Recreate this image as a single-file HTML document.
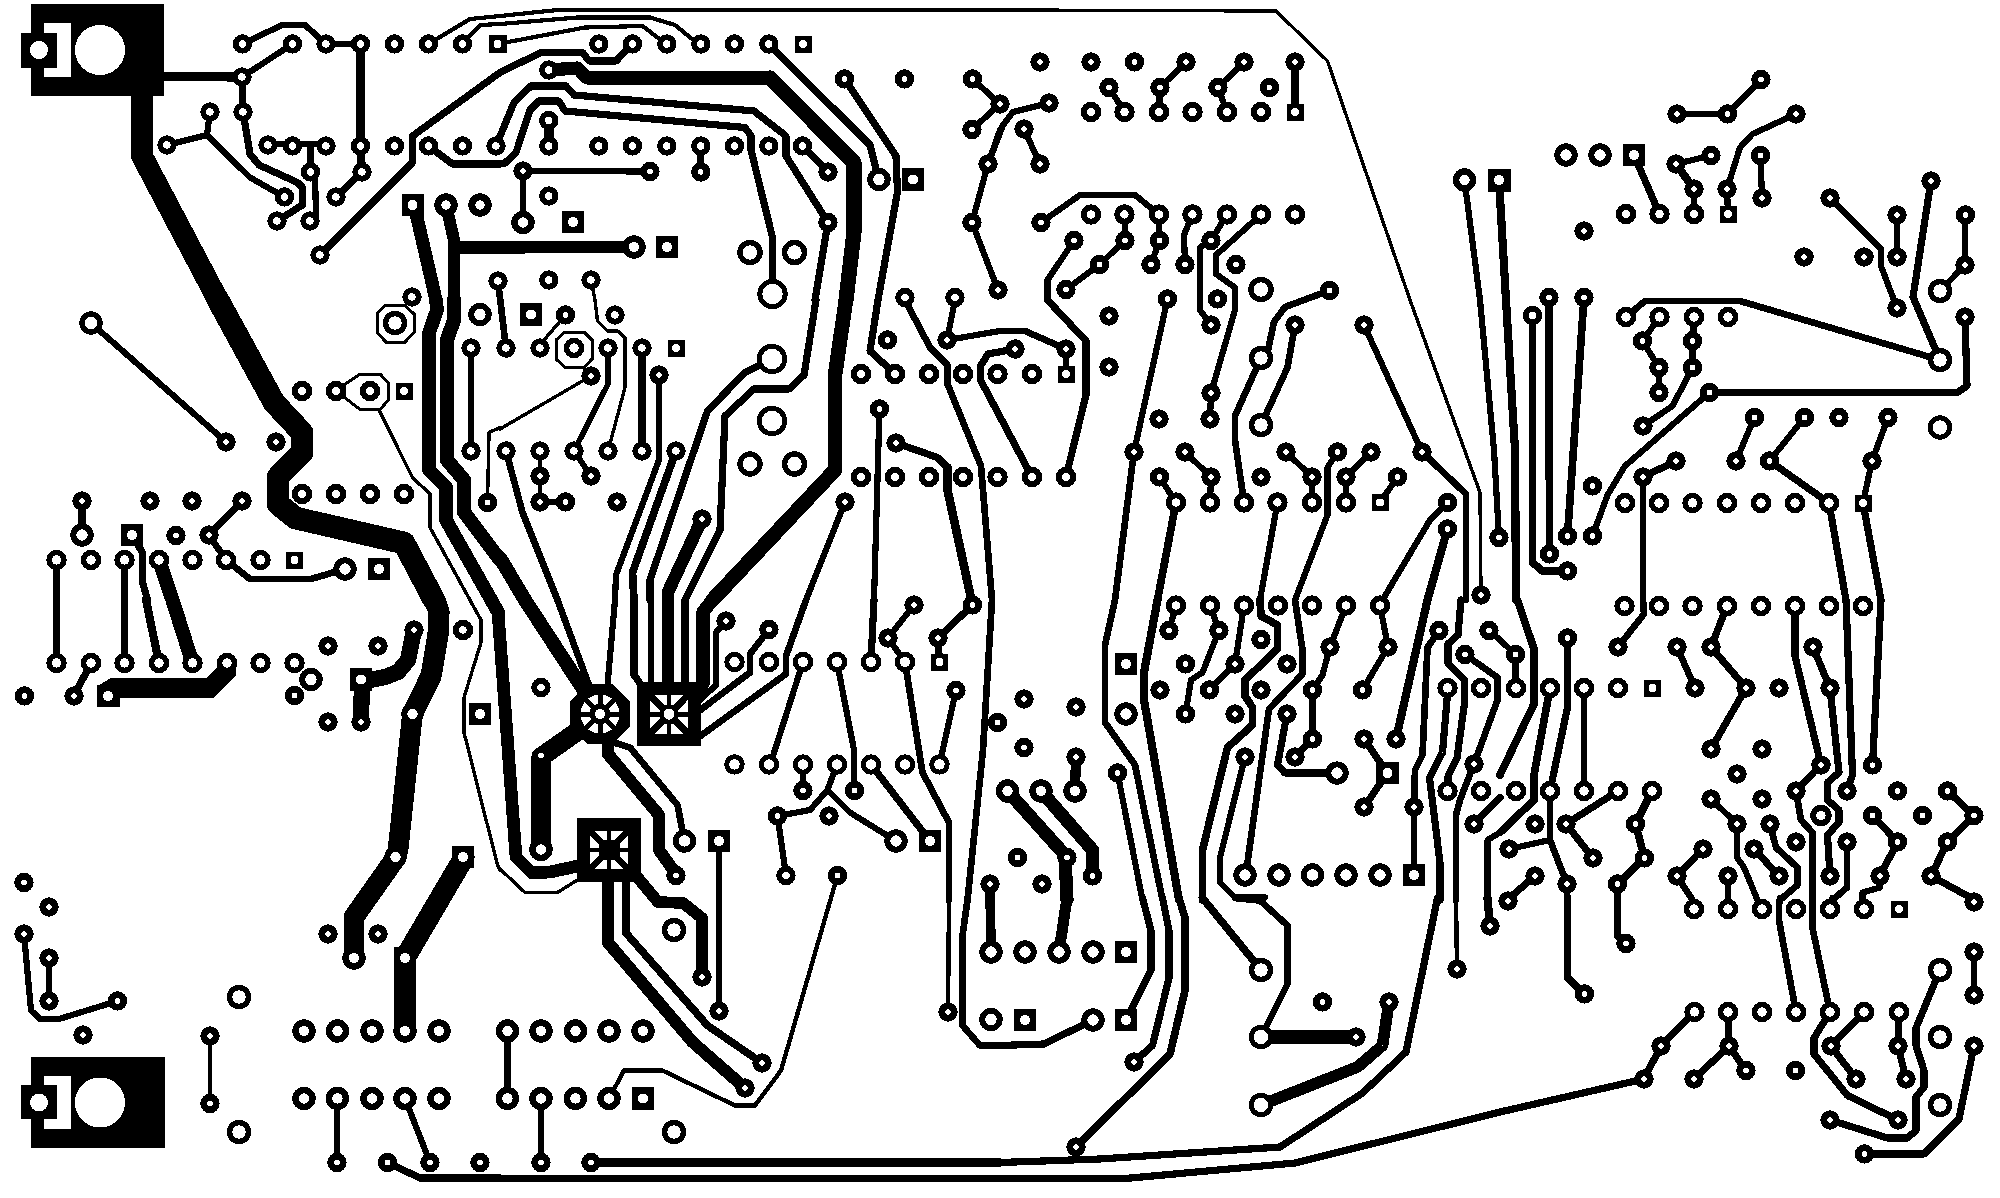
<!DOCTYPE html><html><head><meta charset="utf-8"><title>PCB</title><style>html,body{margin:0;padding:0;background:#fff}svg{display:block}</style></head><body>
<svg width="2000" height="1198" viewBox="0 0 2000 1198" shape-rendering="crispEdges">
<rect width="2000" height="1198" fill="#fff"/>
<g fill="none" stroke="#000" stroke-linejoin="round" stroke-linecap="round">
<polyline stroke-width="21.7" points="142,90 142,156 218,300"/>
<polyline stroke-width="9.2" points="160,76.5 242,77"/>
<polyline stroke-width="6.2" points="242.5,44 282,25 305,25 326,44 360.5,44"/>
<polyline stroke-width="6.2" points="292.5,44 242,77"/>
<polyline stroke-width="7.2" points="242,77 243,112"/>
<polyline stroke-width="8.2" points="360.5,44 360.5,146 362,172"/>
<polyline stroke-width="7.2" points="362,172 336,197"/>
<polyline stroke-width="7.2" points="243,112 250,154 259,165 297.5,182.5 302.5,187.5 302.5,205 277,221"/>
<polyline stroke-width="6.2" points="210,112 207,135"/>
<polyline stroke-width="6.2" points="167,145 207,135 250,177.5 284.5,197"/>
<polyline stroke-width="6.2" points="268,144 326,144"/>
<polyline stroke-width="6.2" points="310.5,146 310.5,172"/>
<polyline stroke-width="6.2" points="315,172 316,217 310,221"/>
<polyline stroke-width="7.2" points="320,255 412.5,162.5 412.5,136 500,72.5"/>
<polyline stroke-width="4.2" points="428.5,44 470,19 500,16"/>
<polyline stroke-width="4.2" points="462.5,44 480,25 500,24"/>
<polyline stroke-width="7.2" points="428.5,146 452.5,164 500,164"/>
<polyline stroke-width="13.2" points="416,213 436,300"/>
<polyline stroke-width="12.2" points="446,205 454,240 454,300"/>
<polyline stroke-width="12.2" points="454,247.5 500,247.5"/>
<polyline stroke-width="4.2" points="500,16 557.5,10 1000,10"/>
<polyline stroke-width="4.2" points="500,24 577.5,17.5 650,17.5 675,25 692,39 700.75,44"/>
<polyline stroke-width="4.2" points="497.5,44 585,27.5 642.5,26 657.5,37.5 666.75,44"/>
<polyline stroke-width="7.2" points="500,72.5 541,52.5 582.5,52.5 589,61 616,61 632.5,44"/>
<polyline stroke-width="13.2" points="548.75,70 577.5,68 587,78 770,78"/>
<polyline stroke-width="15.2" points="770,78 854,162.5 854,232 846,300"/>
<polyline stroke-width="7.2" points="496,146 514,102.5 531,86 566,86 574,95 754,111 786,136 786,156 828,222.5 815,300"/>
<polyline stroke-width="7.2" points="500,164 505,163 516,152.5 530,110 539,101 559,101 565,111 745,127.5 751,136 751,150 772.5,237.5 772.5,282"/>
<polyline stroke-width="7.2" points="768.75,44 870,145 875,165 879,179.5"/>
<polyline stroke-width="7.2" points="844.5,79 896,156 897.5,192 878,300"/>
<polyline stroke-width="10.2" points="548.75,120.5 548.75,146"/>
<polyline stroke-width="6.2" points="523,171 650,171.5"/>
<polyline stroke-width="6.2" points="523,171 523,222.5"/>
<polyline stroke-width="7.2" points="700.75,146 700.75,172"/>
<polyline stroke-width="7.2" points="802.5,146 828,172"/>
<polyline stroke-width="12.2" points="500,247.5 634,247"/>
<polyline stroke-width="3.4" points="591,280 595,300"/>
<polyline stroke-width="6.2" points="972.5,79 1000,104 972,129.5"/>
<polyline stroke-width="6.2" points="1000,130 988,164 972,222.5 998,290"/>
<polyline stroke-width="3.4" points="1000,10 1276,11 1327.5,61 1410,300"/>
<polyline stroke-width="6.2" points="1186,62 1160,87.5 1159,112"/>
<polyline stroke-width="6.2" points="1244,62 1218,87.5 1227,112"/>
<polyline stroke-width="7.2" points="1295,62 1295,112"/>
<polyline stroke-width="6.2" points="1109,87.5 1124.5,112"/>
<polyline stroke-width="6.2" points="1049,103 1013,112 1003,125 988,164"/>
<polyline stroke-width="6.2" points="1024,129 1040,164"/>
<polyline stroke-width="6.2" points="1041,222.5 1080,195 1135,195 1159,214.5"/>
<polyline stroke-width="6.2" points="1124.5,214.5 1125,240.5 1099.5,264.5 1066,289.5"/>
<polyline stroke-width="6.2" points="1159,214.5 1159.5,240.5 1151,264.5"/>
<polyline stroke-width="6.2" points="1192.5,214.5 1184,235 1185,264.5"/>
<polyline stroke-width="6.2" points="1227,214.5 1211,240.5 1200,247.5 1200,300"/>
<polyline stroke-width="6.2" points="1261,214.5 1216,255 1216,274 1235,287.5 1235,300"/>
<polyline stroke-width="6.2" points="1074,240.5 1047.5,280 1047.5,300"/>
<polyline stroke-width="6.2" points="1464.5,180 1480,300"/>
<polyline stroke-width="6.2" points="1677,114 1727.5,114 1761,79.5"/>
<polyline stroke-width="6.2" points="1796,114 1752.5,134 1740,147.5 1727,189 1728,214"/>
<polyline stroke-width="7.2" points="1634,155 1659.5,214"/>
<polyline stroke-width="6.2" points="1676,164 1711,155.5"/>
<polyline stroke-width="8.2" points="1676,164 1694,189"/>
<polyline stroke-width="6.2" points="1694,189 1694,214"/>
<polyline stroke-width="6.2" points="1760.5,155.5 1762,198"/>
<polyline stroke-width="6.2" points="1830,198 1881,249 1881,266 1897,308"/>
<polyline stroke-width="6.2" points="1897,215 1897,257"/>
<polyline stroke-width="7.2" points="1931,181 1913,297 1940,360"/>
<polyline stroke-width="6.2" points="1965.5,215 1965,265 1940,291"/>
<polyline stroke-width="6.2" points="91,323 226,442"/>
<polyline stroke-width="22.7" points="218,300 274,402.5 302,432.5 302,452.5 278,477 278,504 295.5,518 404,543 434,600"/>
<polyline stroke-width="13.7" points="436,300 437,310 429,333 429,470 446,487 446,520 498,612"/>
<polyline stroke-width="14.2" points="454,300 454,320 447,340 447,460 464,480 464,512 500,560"/>
<polyline stroke-width="3.4" points="379,410 412.5,477.5 430,494 430,527.5 481,620 481,642.5 464,697.5 464,732.5 497.5,865 500,870"/>
<polyline stroke-width="6.2" points="471,348 471,451"/>
<polyline stroke-width="3.4" points="500,427.5 489,432.5 487.5,502.5"/>
<polyline stroke-width="7.2" points="82,501 82,535"/>
<polyline stroke-width="7.2" points="242,501 209,535"/>
<polyline stroke-width="6.7" points="209,535 226,560 250,579 311,579 345,569"/>
<polyline stroke-width="7.2" points="132,535 142.5,552.5 142.5,582 147.5,600"/>
<polyline stroke-width="14.2" points="159,560 172.5,600"/>
<polyline stroke-width="7.2" points="56.5,560 56.5,600"/>
<polyline stroke-width="7.2" points="124.5,560 124.5,600"/>
<polyline stroke-width="6.7" points="498,281 506,348"/>
<polyline stroke-width="3.4" points="565.5,315 544,340"/>
<polyline stroke-width="3.4" points="595,300 597.5,321 607.5,331 617.5,331 625,337.5 625,387.5 608,451"/>
<polyline stroke-width="3.4" points="584,367.5 591,376 500,429"/>
<polyline stroke-width="5.7" points="608,348 608,384 574,451 591,476"/>
<polyline stroke-width="8.2" points="642,348 642,451"/>
<polyline stroke-width="6.2" points="659,375 659,460 616,575 615,600"/>
<polyline stroke-width="7.7" points="676,451 632.5,572.5 634,600"/>
<polyline stroke-width="7.2" points="772,359 745,372.5 707.5,411 650,580 650,600"/>
<polyline stroke-width="12.7" points="702,519 668,592 668,684"/>
<polyline stroke-width="7.2" points="816,300 804,375 789,389 754,389 725,416 720,530 685,600"/>
<polyline stroke-width="14.7" points="846,300 835,375 835,470 712.5,600"/>
<polyline stroke-width="6.7" points="506,451 522.5,512.5 557.5,600"/>
<polyline stroke-width="4.4" points="540,451 540,502"/>
<polyline stroke-width="6.2" points="540,502 565.5,502"/>
<polyline stroke-width="14.2" points="500,558 525,600"/>
<polyline stroke-width="7.2" points="878,300 870,351 895,374"/>
<polyline stroke-width="6.7" points="905,300 930,347.5 947.5,365 947.5,384 981,466 992,600"/>
<polyline stroke-width="6.2" points="955,300 947,340 1000,331"/>
<polyline stroke-width="6.2" points="879.5,409 874,600"/>
<polyline stroke-width="7.2" points="896,443 937.5,457.5 947.5,467.5"/>
<polyline stroke-width="8.7" points="947.5,467.5 947.5,490 972.5,605"/>
<polyline stroke-width="6.2" points="845,502 806,600"/>
<polyline stroke-width="7.2" points="1047.5,300 1086,341 1086,395 1066,477"/>
<polyline stroke-width="6.7" points="1000,331 1025,331 1066,349"/>
<polyline stroke-width="7.2" points="1015,349 988,354 980.5,366 980.5,380 1032,477"/>
<polyline stroke-width="6.2" points="1066,349 1066,374"/>
<polyline stroke-width="6.2" points="1167.5,299 1134,452"/>
<polyline stroke-width="6.7" points="1134,452 1115,600"/>
<polyline stroke-width="6.2" points="1200,300 1200,310 1211,325"/>
<polyline stroke-width="6.2" points="1235,300 1235,310 1211,393 1210,419"/>
<polyline stroke-width="6.7" points="1329.5,290.5 1285,307 1274,322 1268,350 1261,358 1235,416 1235,440 1244,502.5"/>
<polyline stroke-width="6.7" points="1295,325 1287.5,367.5 1261,425"/>
<polyline stroke-width="6.2" points="1364,325 1422,452"/>
<polyline stroke-width="6.7" points="1422,452 1466,494 1466,600"/>
<polyline stroke-width="3.4" points="1410,300 1480,492.5 1481,595"/>
<polyline stroke-width="6.2" points="1480,300 1494,450 1499,537.5"/>
<polyline stroke-width="6.2" points="1185,452 1211,477 1210,502.5"/>
<polyline stroke-width="6.2" points="1159.5,477 1176,502.5"/>
<polyline stroke-width="7.7" points="1176,502.5 1157.5,600"/>
<polyline stroke-width="6.2" points="1286,452 1312,477 1312,502.5"/>
<polyline stroke-width="6.2" points="1337.5,452 1327.5,467.5 1327.5,515 1295,600"/>
<polyline stroke-width="6.2" points="1371,452 1346,477 1346,502.5"/>
<polyline stroke-width="6.2" points="1397.5,477 1380,502.5"/>
<polyline stroke-width="6.2" points="1277.5,502.5 1260,600"/>
<polyline stroke-width="6.2" points="1447.5,502.5 1430,520 1382.5,600"/>
<polyline stroke-width="8.2" points="1447.5,529 1427.5,600"/>
<polyline stroke-width="8.2" points="1499,180 1506,300 1515,450 1516,600"/>
<polyline stroke-width="7.7" points="1532.5,315.5 1532.5,562.5 1542.5,571 1567.5,571"/>
<polyline stroke-width="7.7" points="1549,297.5 1549.5,554"/>
<polyline stroke-width="7.7" points="1584,297.5 1567.5,536"/>
<polyline stroke-width="6.7" points="1626,317 1645,301 1740,301 1940,360"/>
<polyline stroke-width="6.2" points="1659.5,317 1642.5,341 1659,367.5 1659,392.5"/>
<polyline stroke-width="7.2" points="1694,317 1692.5,341 1692.5,367.5"/>
<polyline stroke-width="6.2" points="1692.5,367.5 1672.5,406 1643,426"/>
<polyline stroke-width="7.2" points="1709.5,392.5 1957.5,392.5 1967,386 1965,317"/>
<polyline stroke-width="6.2" points="1709.5,392.5 1625,466 1607.5,495 1592.5,536"/>
<polyline stroke-width="6.2" points="1754.5,417.5 1736,461"/>
<polyline stroke-width="6.2" points="1804.5,417.5 1769.5,461"/>
<polyline stroke-width="7.2" points="1769.5,461 1829,503 1846,600"/>
<polyline stroke-width="6.2" points="1888,417.5 1872,461 1863,503"/>
<polyline stroke-width="7.2" points="1863,503 1881,600"/>
<polyline stroke-width="7.2" points="1676,461 1643,477"/>
<polyline stroke-width="6.7" points="1643,477 1643,600"/>
<polyline stroke-width="7.2" points="56.5,600 56.5,663"/>
<polyline stroke-width="7.2" points="124.5,600 124.5,663"/>
<polyline stroke-width="8.2" points="146,600 159,663"/>
<polyline stroke-width="14.2" points="172.5,600 192.5,663"/>
<polyline stroke-width="7.2" points="91,663 74,696"/>
<polyline stroke-width="16.2" points="414,630 408,660 398,672 385,677 361,682"/>
<polyline stroke-width="16.2" points="362,680 361,722"/>
<polyline stroke-width="21.2" points="435,600 439,612 438,635 431,676 412.5,714"/>
<polyline stroke-width="20.7" points="412.5,714 398,850 396,857.5 354,917 354,958"/>
<polyline stroke-width="21.2" points="464,857.5 405,958 405,1031"/>
<polyline stroke-width="12.7" points="498,612 516,857 532,873 550,872 578,866"/>
<polyline stroke-width="3.4" points="500,869 525,892.5 557.5,892.5 577.5,880"/>
<polyline stroke-width="14.2" points="525,600 585,692"/>
<polyline stroke-width="6.7" points="557.5,600 590,688"/>
<polyline stroke-width="6.2" points="615,600 607.5,685"/>
<polyline stroke-width="7.2" points="634,600 634,675 642,686"/>
<polyline stroke-width="6.2" points="651,600 651,684"/>
<polyline stroke-width="7.2" points="685,600 685,684"/>
<polyline stroke-width="13.2" points="712.5,600 703,612 703,684 696,692"/>
<polyline stroke-width="6.2" points="726,621 716,632.5 716,685 699,701"/>
<polyline stroke-width="6.7" points="769,629.5 750,654 750,672.5 699,711"/>
<polyline stroke-width="6.7" points="806,600 786,656 786,674 699,737"/>
<polyline stroke-width="6.2" points="803,662 772.5,757.5 769,764.5"/>
<polyline stroke-width="6.2" points="837,662 854,750 854.5,790.5"/>
<polyline stroke-width="7.2" points="874,600 871,662"/>
<polyline stroke-width="6.2" points="914,605 888,638 905,662"/>
<polyline stroke-width="6.7" points="905,662 922.5,772.5 949,822.5 949,900"/>
<polyline stroke-width="7.2" points="972.5,605 938,638 939.5,662"/>
<polyline stroke-width="6.2" points="956,690.5 939.5,764.5"/>
<polyline stroke-width="6.7" points="992,600 983,750 967.5,900"/>
<polyline stroke-width="6.2" points="803,764.5 803,790.5"/>
<polyline stroke-width="6.2" points="837,764.5 827.5,790 810,810 777.5,816 786,875.5"/>
<polyline stroke-width="6.2" points="827.5,790 850,812.5 896,841"/>
<polyline stroke-width="7.2" points="871,764.5 930,841"/>
<polyline stroke-width="5.7" points="719,841 719,1011"/>
<polyline stroke-width="9.7" points="990,884 991,952"/>
<polyline stroke-width="19.2" points="588,724 541,757 541,849.5"/>
<polyline stroke-width="12.2" points="608,742 608,754 659,815 659,850 675,872.5"/>
<polyline stroke-width="6.7" points="612,742 630,747.5 677.5,805 684.5,841"/>
<polyline stroke-width="6.2" points="1117.5,773 1142.5,900"/>
<polyline stroke-width="6.7" points="1115,600 1105,645 1105,722.5 1135,765 1162.5,900"/>
<polyline stroke-width="8.2" points="1157.5,600 1144,672.5 1144,700 1179,900"/>
<polyline stroke-width="6.2" points="1176,605.5 1169,630.5"/>
<polyline stroke-width="6.2" points="1210,605.5 1219,630.5 1202.5,672.5 1191,680 1185.5,714"/>
<polyline stroke-width="6.2" points="1244,605.5 1235,664 1209.5,690"/>
<polyline stroke-width="7.7" points="1260,600 1261,616 1277.5,625 1277.5,649 1245,680 1245,696 1252.5,707.5 1252.5,725 1227.5,747.5 1202.5,850 1202.5,900"/>
<polyline stroke-width="6.7" points="1295,600 1302.5,650 1302.5,674 1269,709 1247,866 1245,875"/>
<polyline stroke-width="6.2" points="1245,757 1220,857.5 1220,882.5 1235,897.5 1265,897.5"/>
<polyline stroke-width="6.2" points="1346,605.5 1330,647 1322.5,675 1312.5,690"/>
<polyline stroke-width="7.2" points="1312.5,690 1312.5,739 1295,757"/>
<polyline stroke-width="6.2" points="1380,605.5 1388,647 1362.5,690"/>
<polyline stroke-width="7.2" points="1287,714 1277.5,765 1285,773 1337,773"/>
<polyline stroke-width="7.2" points="1364,739 1387.5,773 1364,807"/>
<polyline stroke-width="8.2" points="1427.5,600 1396,739"/>
<polyline stroke-width="6.7" points="1439,630.5 1427.5,647.5 1422.5,755 1415,770 1414,807 1414,875"/>
<polyline stroke-width="7.2" points="1461,600 1458,635 1448,644 1448,663.5 1464.5,680 1464.5,703 1457,758 1448,776.5 1448,791"/>
<polyline stroke-width="7.2" points="1448,688 1442.5,752.5 1429.5,778 1440,862.5 1440,900"/>
<polyline stroke-width="6.7" points="1465,654.5 1497.5,677.5 1497.5,700 1474,764 1460,800 1456,815 1456,900"/>
<polyline stroke-width="6.2" points="1489,630.5 1500,640"/>
<polyline stroke-width="7.2" points="1474,824 1500,797.5"/>
<polyline stroke-width="10.2" points="1076,757 1075,791"/>
<polyline stroke-width="13.2" points="1007.5,791 1065,855 1067,900"/>
<polyline stroke-width="13.2" points="1041,791 1092.5,850 1092.5,876"/>
<polyline stroke-width="6.2" points="1487.5,900 1487.5,840 1500,832.5"/>
<polyline stroke-width="7.7" points="1516,600 1517.5,600 1534,649 1534,704 1500,775"/>
<polyline stroke-width="7.2" points="1515.5,654.5 1516,688"/>
<polyline stroke-width="6.2" points="1500,640 1515.5,654.5"/>
<polyline stroke-width="7.7" points="1550,688 1534,775 1534,800 1500,832.5"/>
<polyline stroke-width="7.2" points="1567.5,638 1567.5,707.5 1550,791"/>
<polyline stroke-width="6.7" points="1550,791 1550,840 1567,884 1567,900"/>
<polyline stroke-width="6.2" points="1550,840 1509,849"/>
<polyline stroke-width="6.7" points="1584,688 1584,791"/>
<polyline stroke-width="6.7" points="1643,600 1644,614 1618,647"/>
<polyline stroke-width="6.7" points="1677,647 1695,688"/>
<polyline stroke-width="7.2" points="1727,606 1711,647 1746,688 1711,749"/>
<polyline stroke-width="7.2" points="1795,606 1795,656 1821,765"/>
<polyline stroke-width="6.7" points="1821,765 1796,791 1801,820 1812.5,832.5 1812.5,900"/>
<polyline stroke-width="7.2" points="1813,647 1830,688 1839,772.5 1827.5,782.5 1827.5,800 1839,810 1839,822.5 1827.5,835 1830,876"/>
<polyline stroke-width="7.2" points="1846,600 1852.5,775 1847,791"/>
<polyline stroke-width="7.2" points="1881,600 1872.5,765"/>
<polyline stroke-width="7.2" points="1618,791 1566,824 1593,858"/>
<polyline stroke-width="7.7" points="1652,791 1635.5,824 1644.5,858 1617.5,884 1617.5,900"/>
<polyline stroke-width="6.2" points="1711,799 1737,824 1737,857.5 1744,867.5 1757.5,900"/>
<polyline stroke-width="6.7" points="1770,824 1776,847.5 1797.5,867.5 1797.5,885 1780,900"/>
<polyline stroke-width="7.2" points="1754,849 1779,876"/>
<polyline stroke-width="6.7" points="1703,849 1677,876 1692.5,900"/>
<polyline stroke-width="6.2" points="1728,876 1728,900"/>
<polyline stroke-width="6.7" points="1847,842 1847,887.5 1832.5,900"/>
<polyline stroke-width="7.2" points="1872.5,815.5 1897.5,842 1880,876"/>
<polyline stroke-width="6.2" points="1880,876 1880,887.5 1862.5,892.5 1862.5,900"/>
<polyline stroke-width="7.2" points="1947.5,791 1974,815.5 1947.5,842 1931,876 1975,900"/>
<polyline stroke-width="7.2" points="1535,876 1507,900"/>
<polyline stroke-width="6.2" points="24,934 31,1010.5 40,1019 59,1019 117.5,1001"/>
<polyline stroke-width="6.2" points="49,958 49,1001"/>
<polyline stroke-width="3.4" points="210,1036 210,1103.5"/>
<polyline stroke-width="6.2" points="337.5,1098.5 337,1162.5"/>
<polyline stroke-width="6.2" points="405,1098.5 430,1162.5"/>
<polyline stroke-width="7.2" points="387.5,1162.5 420,1178 500,1178"/>
<polyline stroke-width="12.2" points="608,878 608,942.5 692.5,1042 745,1088"/>
<polyline stroke-width="7.7" points="626,878 626,933 707.5,1025.5 762,1063"/>
<polyline stroke-width="11.7" points="638,878 658,902 683,903 702,918 702,977"/>
<polyline stroke-width="4.4" points="837.5,875.5 781,1070.5 755,1105.5 735,1105.5 662.5,1070.5 624,1070.5 609,1098.5"/>
<polyline stroke-width="6.7" points="507.5,1031 507.5,1098.5"/>
<polyline stroke-width="6.7" points="541,1098.5 541,1162.5"/>
<polyline stroke-width="8.2" points="591,1162.5 1000,1162.5"/>
<polyline stroke-width="7.7" points="500,1178.5 1000,1178.5"/>
<polyline stroke-width="4.4" points="949,900 948,1012"/>
<polyline stroke-width="6.7" points="967.5,900 962.5,935.5 962.5,1025.5 980,1045.5 1000,1045.5"/>
<polyline stroke-width="11.2" points="1067,898 1059,952"/>
<polyline stroke-width="7.2" points="1000,1045.5 1044,1044 1093,1020"/>
<polyline stroke-width="7.2" points="1142.5,898 1151,930.5 1151,970.5 1126,1020"/>
<polyline stroke-width="7.2" points="1162.5,898 1169,930.5 1169,978 1152.5,1045.5 1134,1062"/>
<polyline stroke-width="7.7" points="1179,898 1185,918 1185,990.5 1170,1054 1076,1147"/>
<polyline stroke-width="7.7" points="1202.5,898 1261,970"/>
<polyline stroke-width="6.7" points="1235,898 1260,900.5 1287.5,925.5 1287.5,984 1261,1037"/>
<polyline stroke-width="13.2" points="1261,1037 1356,1037"/>
<polyline stroke-width="11.7" points="1389,1002 1382.5,1045.5 1357.5,1067 1261,1105"/>
<polyline stroke-width="7.2" points="1440,898 1437.5,898 1406,1052 1362.5,1093 1280,1147 1100,1159 1000,1162.5"/>
<polyline stroke-width="4.4" points="1456,898 1457,969"/>
<polyline stroke-width="8.2" points="1487.5,898 1490,926"/>
<polyline stroke-width="7.2" points="1000,1178.5 1125,1178.5 1295,1163 1500,1112 1644,1079"/>
<polyline stroke-width="7.7" points="1567.5,898 1567.5,978 1584.5,994"/>
<polyline stroke-width="7.7" points="1617.5,898 1617.5,935.5 1626,943.5"/>
<polyline stroke-width="7.2" points="1644,1079 1661,1046 1694.5,1012"/>
<polyline stroke-width="7.2" points="1728,1012 1729,1046 1694,1079"/>
<polyline stroke-width="7.2" points="1729,1046 1746,1070.5"/>
<polyline stroke-width="6.7" points="1780,898 1779,905.5 1779,920.5 1796,1012"/>
<polyline stroke-width="6.7" points="1812.5,898 1812.5,928 1830,1012"/>
<polyline stroke-width="7.2" points="1830,1012 1814,1038 1814,1054 1847.5,1095.5 1898,1120"/>
<polyline stroke-width="7.2" points="1864,1012 1831,1046 1856,1079"/>
<polyline stroke-width="7.2" points="1899,1012 1898,1046 1906,1079"/>
<polyline stroke-width="7.2" points="1940,970 1916,1028 1916,1045.5 1924,1070.5 1924,1087 1916,1097 1916,1130.5 1907.5,1138 1887.5,1138 1830,1120"/>
<polyline stroke-width="6.2" points="1974,952 1974,995"/>
<polyline stroke-width="7.2" points="1974,1046 1959,1119 1924,1154 1864.5,1154"/>
<polyline stroke-width="6.2" points="1832.5,898 1830,909"/>
</g>
<g fill="#000">
<circle cx="242.5" cy="44" r="9.7"/>
<circle cx="292.5" cy="44" r="9.7"/>
<circle cx="326" cy="44" r="9.7"/>
<circle cx="360.5" cy="44" r="9.7"/>
<circle cx="394.5" cy="44" r="9.7"/>
<circle cx="428.5" cy="44" r="9.7"/>
<circle cx="462.5" cy="44" r="9.7"/>
<circle cx="242" cy="77" r="9.7"/>
<circle cx="210" cy="112" r="9.7"/>
<circle cx="243" cy="112" r="9.7"/>
<circle cx="167" cy="145" r="9.7"/>
<circle cx="268" cy="145" r="9.7"/>
<circle cx="292.5" cy="146" r="9.7"/>
<circle cx="326" cy="146" r="9.7"/>
<circle cx="360.5" cy="146" r="9.7"/>
<circle cx="394.5" cy="146" r="9.7"/>
<circle cx="428.5" cy="146" r="9.7"/>
<circle cx="462.5" cy="146" r="9.7"/>
<circle cx="496" cy="146" r="9.7"/>
<circle cx="310.5" cy="172" r="9.7"/>
<circle cx="362" cy="172" r="9.7"/>
<circle cx="284.5" cy="197" r="9.7"/>
<circle cx="336" cy="197" r="9.7"/>
<circle cx="277" cy="221" r="9.7"/>
<circle cx="310" cy="221" r="9.7"/>
<circle cx="320" cy="255" r="9.7"/>
<circle cx="412" cy="297" r="9.7"/>
<circle cx="498" cy="281" r="9.7"/>
<circle cx="446" cy="205" r="11.7"/>
<circle cx="480" cy="205" r="11.7"/>
<circle cx="598.75" cy="44" r="9.7"/>
<circle cx="632.5" cy="44" r="9.7"/>
<circle cx="666.75" cy="44" r="9.7"/>
<circle cx="700.75" cy="44" r="9.7"/>
<circle cx="734.5" cy="44" r="9.7"/>
<circle cx="768.75" cy="44" r="9.7"/>
<circle cx="548.75" cy="70" r="9.7"/>
<circle cx="548.75" cy="120.5" r="9.7"/>
<circle cx="548.75" cy="146" r="9.7"/>
<circle cx="598.75" cy="146" r="9.7"/>
<circle cx="632.5" cy="146" r="9.7"/>
<circle cx="666.75" cy="146" r="9.7"/>
<circle cx="700.75" cy="146" r="9.7"/>
<circle cx="734.5" cy="146" r="9.7"/>
<circle cx="768.75" cy="146" r="9.7"/>
<circle cx="802.5" cy="146" r="9.7"/>
<circle cx="548.75" cy="196" r="9.7"/>
<circle cx="548.75" cy="280" r="9.7"/>
<circle cx="591" cy="280" r="9.7"/>
<circle cx="905" cy="297.5" r="9.7"/>
<circle cx="955" cy="297.5" r="9.7"/>
<circle cx="844.5" cy="79" r="9.7"/>
<circle cx="904.5" cy="79" r="9.7"/>
<circle cx="972.5" cy="79" r="9.7"/>
<circle cx="1000" cy="104" r="9.7"/>
<circle cx="972" cy="129.5" r="9.7"/>
<circle cx="523" cy="171" r="9.7"/>
<circle cx="650" cy="171.5" r="9.7"/>
<circle cx="700.75" cy="172" r="9.7"/>
<circle cx="828" cy="172" r="9.7"/>
<circle cx="828" cy="222.5" r="9.7"/>
<circle cx="988" cy="164" r="9.7"/>
<circle cx="972" cy="222.5" r="9.7"/>
<circle cx="998" cy="290" r="9.7"/>
<circle cx="523" cy="222.5" r="11.7"/>
<circle cx="634" cy="247" r="11.7"/>
<circle cx="879" cy="179.5" r="11.7"/>
<circle cx="750" cy="252.5" r="12.7"/>
<circle cx="794.5" cy="252.5" r="12.7"/>
<circle cx="772.5" cy="294" r="15.2"/>
<circle cx="1040" cy="62" r="9.7"/>
<circle cx="1091" cy="62" r="9.7"/>
<circle cx="1134.5" cy="62" r="9.7"/>
<circle cx="1186" cy="62" r="9.7"/>
<circle cx="1244" cy="62" r="9.7"/>
<circle cx="1295" cy="62" r="9.7"/>
<circle cx="1109" cy="87.5" r="9.7"/>
<circle cx="1160" cy="87.5" r="9.7"/>
<circle cx="1218" cy="87.5" r="9.7"/>
<circle cx="1269.5" cy="87.5" r="9.7"/>
<circle cx="1049" cy="103" r="9.7"/>
<circle cx="1024" cy="129" r="9.7"/>
<circle cx="1040" cy="164" r="9.7"/>
<circle cx="1041" cy="222.5" r="9.7"/>
<circle cx="1074" cy="240.5" r="9.7"/>
<circle cx="1125" cy="240.5" r="9.7"/>
<circle cx="1159.5" cy="240.5" r="9.7"/>
<circle cx="1211" cy="240.5" r="9.7"/>
<circle cx="1099.5" cy="264.5" r="9.7"/>
<circle cx="1151" cy="264.5" r="9.7"/>
<circle cx="1185" cy="264.5" r="9.7"/>
<circle cx="1236" cy="264.5" r="9.7"/>
<circle cx="1066" cy="289.5" r="9.7"/>
<circle cx="1329.5" cy="290.5" r="9.7"/>
<circle cx="1167.5" cy="299" r="9.7"/>
<circle cx="1217.5" cy="299" r="9.7"/>
<circle cx="1091" cy="112" r="10.2"/>
<circle cx="1124.5" cy="112" r="10.2"/>
<circle cx="1159" cy="112" r="10.2"/>
<circle cx="1192.5" cy="112" r="10.2"/>
<circle cx="1227" cy="112" r="10.2"/>
<circle cx="1261" cy="112" r="10.2"/>
<circle cx="1091" cy="214.5" r="10.2"/>
<circle cx="1124.5" cy="214.5" r="10.2"/>
<circle cx="1159" cy="214.5" r="10.2"/>
<circle cx="1192.5" cy="214.5" r="10.2"/>
<circle cx="1227" cy="214.5" r="10.2"/>
<circle cx="1261" cy="214.5" r="10.2"/>
<circle cx="1295" cy="214.5" r="10.2"/>
<circle cx="1464.5" cy="180" r="11.7"/>
<circle cx="1261" cy="289.5" r="12.7"/>
<circle cx="1761" cy="79.5" r="9.7"/>
<circle cx="1677" cy="114" r="9.7"/>
<circle cx="1727.5" cy="114" r="9.7"/>
<circle cx="1796" cy="114" r="9.7"/>
<circle cx="1711" cy="155.5" r="9.7"/>
<circle cx="1676" cy="164" r="9.7"/>
<circle cx="1760.5" cy="155.5" r="9.7"/>
<circle cx="1694" cy="189" r="9.7"/>
<circle cx="1727" cy="189" r="9.7"/>
<circle cx="1762" cy="198" r="9.7"/>
<circle cx="1584" cy="231" r="9.7"/>
<circle cx="1830" cy="198" r="9.7"/>
<circle cx="1931" cy="181" r="9.7"/>
<circle cx="1897" cy="215" r="9.7"/>
<circle cx="1965.5" cy="215" r="9.7"/>
<circle cx="1804" cy="257" r="9.7"/>
<circle cx="1864" cy="257" r="9.7"/>
<circle cx="1897" cy="257" r="9.7"/>
<circle cx="1965" cy="265" r="9.7"/>
<circle cx="1549" cy="297.5" r="9.7"/>
<circle cx="1584" cy="297.5" r="9.7"/>
<circle cx="1566" cy="155" r="11.7"/>
<circle cx="1600" cy="155" r="11.7"/>
<circle cx="1626" cy="214" r="10.2"/>
<circle cx="1659.5" cy="214" r="10.2"/>
<circle cx="1694" cy="214" r="10.2"/>
<circle cx="1940" cy="291" r="12.2"/>
<circle cx="91" cy="323" r="11.7"/>
<circle cx="226" cy="442" r="9.7"/>
<circle cx="276" cy="442" r="9.7"/>
<circle cx="487.5" cy="502.5" r="9.7"/>
<circle cx="82" cy="501" r="9.7"/>
<circle cx="150" cy="501" r="9.7"/>
<circle cx="192" cy="501" r="9.7"/>
<circle cx="242" cy="501" r="9.7"/>
<circle cx="176" cy="535.5" r="9.7"/>
<circle cx="209" cy="535" r="9.7"/>
<circle cx="302" cy="391" r="10.2"/>
<circle cx="336" cy="391" r="10.2"/>
<circle cx="370" cy="391" r="10.2"/>
<circle cx="302" cy="494" r="10.2"/>
<circle cx="336" cy="494" r="10.2"/>
<circle cx="370" cy="494" r="10.2"/>
<circle cx="404" cy="494" r="10.2"/>
<circle cx="395" cy="323" r="12.2"/>
<circle cx="480" cy="314.5" r="11.7"/>
<circle cx="82" cy="535" r="11.7"/>
<circle cx="345" cy="569" r="11.7"/>
<circle cx="471" cy="348" r="9.7"/>
<circle cx="471" cy="451" r="9.7"/>
<circle cx="56.5" cy="560" r="10.2"/>
<circle cx="91" cy="560" r="10.2"/>
<circle cx="124.5" cy="560" r="10.2"/>
<circle cx="159" cy="560" r="10.2"/>
<circle cx="192.5" cy="560" r="10.2"/>
<circle cx="226" cy="560" r="10.2"/>
<circle cx="260.5" cy="560" r="10.2"/>
<circle cx="565.5" cy="315" r="9.7"/>
<circle cx="591" cy="376" r="9.7"/>
<circle cx="659" cy="375" r="9.7"/>
<circle cx="540" cy="476" r="9.7"/>
<circle cx="591" cy="476" r="9.7"/>
<circle cx="540" cy="502" r="9.7"/>
<circle cx="565.5" cy="502" r="9.7"/>
<circle cx="617" cy="502" r="9.7"/>
<circle cx="702" cy="519" r="9.7"/>
<circle cx="887.5" cy="340" r="9.7"/>
<circle cx="947" cy="340" r="9.7"/>
<circle cx="879.5" cy="409" r="9.7"/>
<circle cx="896" cy="443" r="9.7"/>
<circle cx="845" cy="502" r="9.7"/>
<circle cx="615" cy="315" r="9.7"/>
<circle cx="506" cy="348" r="9.7"/>
<circle cx="540" cy="348" r="9.7"/>
<circle cx="608" cy="348" r="9.7"/>
<circle cx="642" cy="348" r="9.7"/>
<circle cx="506" cy="451" r="9.7"/>
<circle cx="540" cy="451" r="9.7"/>
<circle cx="574" cy="451" r="9.7"/>
<circle cx="608" cy="451" r="9.7"/>
<circle cx="642" cy="451" r="9.7"/>
<circle cx="676" cy="451" r="9.7"/>
<circle cx="574" cy="348" r="10.2"/>
<circle cx="772" cy="359" r="15.2"/>
<circle cx="772" cy="421" r="15.2"/>
<circle cx="750" cy="464" r="12.7"/>
<circle cx="794.5" cy="464" r="12.7"/>
<circle cx="861" cy="374" r="10.2"/>
<circle cx="895" cy="374" r="10.2"/>
<circle cx="929" cy="374" r="10.2"/>
<circle cx="963" cy="374" r="10.2"/>
<circle cx="997.5" cy="374" r="10.2"/>
<circle cx="861" cy="477" r="10.2"/>
<circle cx="895" cy="477" r="10.2"/>
<circle cx="929" cy="477" r="10.2"/>
<circle cx="963" cy="477" r="10.2"/>
<circle cx="997.5" cy="477" r="10.2"/>
<circle cx="1109" cy="316" r="9.7"/>
<circle cx="1109" cy="367" r="9.7"/>
<circle cx="1015" cy="349" r="9.7"/>
<circle cx="1066" cy="349" r="9.7"/>
<circle cx="1211" cy="325" r="9.7"/>
<circle cx="1295" cy="325" r="9.7"/>
<circle cx="1364" cy="325" r="9.7"/>
<circle cx="1211" cy="393" r="9.7"/>
<circle cx="1159" cy="419" r="9.7"/>
<circle cx="1210" cy="419" r="9.7"/>
<circle cx="1134" cy="452" r="9.7"/>
<circle cx="1185" cy="452" r="9.7"/>
<circle cx="1286" cy="452" r="9.7"/>
<circle cx="1337.5" cy="452" r="9.7"/>
<circle cx="1371" cy="452" r="9.7"/>
<circle cx="1422" cy="452" r="9.7"/>
<circle cx="1159.5" cy="477" r="9.7"/>
<circle cx="1211" cy="477" r="9.7"/>
<circle cx="1261" cy="477" r="9.7"/>
<circle cx="1312" cy="477" r="9.7"/>
<circle cx="1346" cy="477" r="9.7"/>
<circle cx="1397.5" cy="477" r="9.7"/>
<circle cx="1447.5" cy="502.5" r="9.7"/>
<circle cx="1447.5" cy="529" r="9.7"/>
<circle cx="1499" cy="537.5" r="9.7"/>
<circle cx="1481" cy="595" r="9.7"/>
<circle cx="1032" cy="374" r="10.2"/>
<circle cx="1032" cy="477" r="10.2"/>
<circle cx="1066" cy="477" r="10.2"/>
<circle cx="1176" cy="502.5" r="10.2"/>
<circle cx="1210" cy="502.5" r="10.2"/>
<circle cx="1244" cy="502.5" r="10.2"/>
<circle cx="1277.5" cy="502.5" r="10.2"/>
<circle cx="1312" cy="502.5" r="10.2"/>
<circle cx="1346" cy="502.5" r="10.2"/>
<circle cx="1261" cy="358" r="12.2"/>
<circle cx="1261" cy="425" r="12.2"/>
<circle cx="1532.5" cy="315.5" r="9.7"/>
<circle cx="1626" cy="317" r="10.2"/>
<circle cx="1659.5" cy="317" r="10.2"/>
<circle cx="1694" cy="317" r="10.2"/>
<circle cx="1728" cy="317" r="10.2"/>
<circle cx="1625" cy="503" r="10.2"/>
<circle cx="1659" cy="503" r="10.2"/>
<circle cx="1692.5" cy="503" r="10.2"/>
<circle cx="1727" cy="503" r="10.2"/>
<circle cx="1761" cy="503" r="10.2"/>
<circle cx="1795" cy="503" r="10.2"/>
<circle cx="1829" cy="503" r="10.2"/>
<circle cx="1642.5" cy="341" r="9.7"/>
<circle cx="1692.5" cy="341" r="9.7"/>
<circle cx="1659" cy="367.5" r="9.7"/>
<circle cx="1692.5" cy="367.5" r="9.7"/>
<circle cx="1659" cy="392.5" r="9.7"/>
<circle cx="1709.5" cy="392.5" r="9.7"/>
<circle cx="1643" cy="426" r="9.7"/>
<circle cx="1897" cy="308" r="9.7"/>
<circle cx="1965" cy="317" r="9.7"/>
<circle cx="1754.5" cy="417.5" r="9.7"/>
<circle cx="1804.5" cy="417.5" r="9.7"/>
<circle cx="1839" cy="417.5" r="9.7"/>
<circle cx="1888" cy="417.5" r="9.7"/>
<circle cx="1676" cy="461" r="9.7"/>
<circle cx="1736" cy="461" r="9.7"/>
<circle cx="1769.5" cy="461" r="9.7"/>
<circle cx="1872" cy="461" r="9.7"/>
<circle cx="1643" cy="477" r="9.7"/>
<circle cx="1592.5" cy="486" r="9.7"/>
<circle cx="1567.5" cy="536" r="9.7"/>
<circle cx="1592.5" cy="536" r="9.7"/>
<circle cx="1549.5" cy="554" r="9.7"/>
<circle cx="1567.5" cy="571" r="9.7"/>
<circle cx="1940" cy="360" r="12.2"/>
<circle cx="1940" cy="427.5" r="12.2"/>
<circle cx="56.5" cy="663" r="10.2"/>
<circle cx="91" cy="663" r="10.2"/>
<circle cx="124.5" cy="663" r="10.2"/>
<circle cx="159" cy="663" r="10.2"/>
<circle cx="192.5" cy="663" r="10.2"/>
<circle cx="227" cy="663" r="10.2"/>
<circle cx="260.5" cy="663" r="10.2"/>
<circle cx="294.5" cy="663" r="10.2"/>
<circle cx="24.5" cy="696" r="9.7"/>
<circle cx="74" cy="696" r="9.7"/>
<circle cx="328" cy="646" r="9.7"/>
<circle cx="378" cy="646" r="9.7"/>
<circle cx="414" cy="630" r="9.7"/>
<circle cx="294.5" cy="695.5" r="9.7"/>
<circle cx="328" cy="722" r="9.7"/>
<circle cx="361" cy="722" r="9.7"/>
<circle cx="24" cy="882.5" r="9.7"/>
<circle cx="463" cy="630" r="10.2"/>
<circle cx="311" cy="679.5" r="11.7"/>
<circle cx="412.5" cy="714" r="11.2"/>
<circle cx="395.5" cy="857" r="11.2"/>
<circle cx="726" cy="621" r="9.7"/>
<circle cx="769" cy="629.5" r="9.7"/>
<circle cx="914" cy="605" r="9.7"/>
<circle cx="972.5" cy="605" r="9.7"/>
<circle cx="888" cy="638" r="9.7"/>
<circle cx="938" cy="638" r="9.7"/>
<circle cx="956" cy="690.5" r="9.7"/>
<circle cx="997.5" cy="722.5" r="9.7"/>
<circle cx="803" cy="790.5" r="9.7"/>
<circle cx="854.5" cy="790.5" r="9.7"/>
<circle cx="777.5" cy="816" r="9.7"/>
<circle cx="829" cy="816" r="9.7"/>
<circle cx="676" cy="875.5" r="9.7"/>
<circle cx="837.5" cy="875.5" r="9.7"/>
<circle cx="990" cy="884" r="9.7"/>
<circle cx="734.5" cy="662" r="10.2"/>
<circle cx="769" cy="662" r="10.2"/>
<circle cx="803" cy="662" r="10.2"/>
<circle cx="837" cy="662" r="10.2"/>
<circle cx="871" cy="662" r="10.2"/>
<circle cx="905" cy="662" r="10.2"/>
<circle cx="734.5" cy="764.5" r="10.2"/>
<circle cx="769" cy="764.5" r="10.2"/>
<circle cx="803" cy="764.5" r="10.2"/>
<circle cx="837" cy="764.5" r="10.2"/>
<circle cx="871" cy="764.5" r="10.2"/>
<circle cx="905" cy="764.5" r="10.2"/>
<circle cx="939.5" cy="764.5" r="10.2"/>
<circle cx="541" cy="687.5" r="9.7"/>
<circle cx="786" cy="875.5" r="9.7"/>
<circle cx="684.5" cy="841" r="11.7"/>
<circle cx="896" cy="841" r="11.7"/>
<circle cx="541" cy="849.5" r="11.7"/>
<circle cx="541" cy="755.5" r="3.3"/>
<circle cx="1176" cy="605.5" r="10.2"/>
<circle cx="1210" cy="605.5" r="10.2"/>
<circle cx="1244" cy="605.5" r="10.2"/>
<circle cx="1278" cy="605.5" r="10.2"/>
<circle cx="1312" cy="605.5" r="10.2"/>
<circle cx="1346" cy="605.5" r="10.2"/>
<circle cx="1380" cy="605.5" r="10.2"/>
<circle cx="1169" cy="630.5" r="9.7"/>
<circle cx="1219" cy="630.5" r="9.7"/>
<circle cx="1261" cy="639.5" r="9.7"/>
<circle cx="1330" cy="647" r="9.7"/>
<circle cx="1388" cy="647" r="9.7"/>
<circle cx="1439" cy="630.5" r="9.7"/>
<circle cx="1489" cy="630.5" r="9.7"/>
<circle cx="1465" cy="654.5" r="9.7"/>
<circle cx="1185.5" cy="664" r="9.7"/>
<circle cx="1235" cy="664" r="9.7"/>
<circle cx="1287" cy="664" r="9.7"/>
<circle cx="1160" cy="690" r="9.7"/>
<circle cx="1209.5" cy="690" r="9.7"/>
<circle cx="1261" cy="690" r="9.7"/>
<circle cx="1312.5" cy="690" r="9.7"/>
<circle cx="1362.5" cy="690" r="9.7"/>
<circle cx="1024" cy="699" r="9.7"/>
<circle cx="1076" cy="707" r="9.7"/>
<circle cx="1185.5" cy="714" r="9.7"/>
<circle cx="1235" cy="714" r="9.7"/>
<circle cx="1287" cy="714" r="9.7"/>
<circle cx="1024" cy="747.5" r="9.7"/>
<circle cx="1076" cy="757" r="9.7"/>
<circle cx="1312.5" cy="739" r="9.7"/>
<circle cx="1364" cy="739" r="9.7"/>
<circle cx="1396" cy="739" r="9.7"/>
<circle cx="1295" cy="757" r="9.7"/>
<circle cx="1245" cy="757" r="9.7"/>
<circle cx="1117.5" cy="773" r="9.7"/>
<circle cx="1474" cy="764" r="9.7"/>
<circle cx="1364" cy="807" r="9.7"/>
<circle cx="1414" cy="807" r="9.7"/>
<circle cx="1474" cy="824" r="9.7"/>
<circle cx="1017.5" cy="857.5" r="9.7"/>
<circle cx="1067" cy="857.5" r="9.7"/>
<circle cx="1092.5" cy="876" r="9.7"/>
<circle cx="1042" cy="884" r="9.7"/>
<circle cx="1447.5" cy="688" r="10.2"/>
<circle cx="1481" cy="688" r="10.2"/>
<circle cx="1447.5" cy="791" r="10.2"/>
<circle cx="1481" cy="791" r="10.2"/>
<circle cx="1126" cy="714" r="11.7"/>
<circle cx="1337" cy="773" r="11.7"/>
<circle cx="1245" cy="875" r="11.7"/>
<circle cx="1279" cy="875" r="11.7"/>
<circle cx="1312.5" cy="875" r="11.7"/>
<circle cx="1346" cy="875" r="11.7"/>
<circle cx="1380" cy="875" r="11.7"/>
<circle cx="1007.5" cy="791" r="11.7"/>
<circle cx="1041" cy="791" r="11.7"/>
<circle cx="1075" cy="791" r="11.7"/>
<circle cx="1624.5" cy="606" r="10.2"/>
<circle cx="1659" cy="606" r="10.2"/>
<circle cx="1692.5" cy="606" r="10.2"/>
<circle cx="1727" cy="606" r="10.2"/>
<circle cx="1761" cy="606" r="10.2"/>
<circle cx="1795" cy="606" r="10.2"/>
<circle cx="1829" cy="606" r="10.2"/>
<circle cx="1863" cy="606" r="10.2"/>
<circle cx="1516" cy="688" r="10.2"/>
<circle cx="1550" cy="688" r="10.2"/>
<circle cx="1584" cy="688" r="10.2"/>
<circle cx="1618" cy="688" r="10.2"/>
<circle cx="1516" cy="791" r="10.2"/>
<circle cx="1550" cy="791" r="10.2"/>
<circle cx="1584" cy="791" r="10.2"/>
<circle cx="1618" cy="791" r="10.2"/>
<circle cx="1652" cy="791" r="10.2"/>
<circle cx="1567.5" cy="638" r="9.7"/>
<circle cx="1618" cy="647" r="9.7"/>
<circle cx="1677" cy="647" r="9.7"/>
<circle cx="1711" cy="647" r="9.7"/>
<circle cx="1813" cy="647" r="9.7"/>
<circle cx="1515.5" cy="654.5" r="9.7"/>
<circle cx="1695" cy="688" r="9.7"/>
<circle cx="1746" cy="688" r="9.7"/>
<circle cx="1779" cy="688" r="9.7"/>
<circle cx="1830" cy="688" r="9.7"/>
<circle cx="1711" cy="749" r="9.7"/>
<circle cx="1762" cy="749" r="9.7"/>
<circle cx="1737" cy="774" r="9.7"/>
<circle cx="1821" cy="765" r="9.7"/>
<circle cx="1872.5" cy="765" r="9.7"/>
<circle cx="1711" cy="799" r="9.7"/>
<circle cx="1762" cy="799" r="9.7"/>
<circle cx="1796" cy="791" r="9.7"/>
<circle cx="1847" cy="791" r="9.7"/>
<circle cx="1897.5" cy="791" r="9.7"/>
<circle cx="1947.5" cy="791" r="9.7"/>
<circle cx="1535" cy="824" r="9.7"/>
<circle cx="1566" cy="824" r="9.7"/>
<circle cx="1635.5" cy="824" r="9.7"/>
<circle cx="1737" cy="824" r="9.7"/>
<circle cx="1770" cy="824" r="9.7"/>
<circle cx="1872.5" cy="815.5" r="9.7"/>
<circle cx="1922.5" cy="815.5" r="9.7"/>
<circle cx="1974" cy="815.5" r="9.7"/>
<circle cx="1509" cy="849" r="9.7"/>
<circle cx="1703" cy="849" r="9.7"/>
<circle cx="1754" cy="849" r="9.7"/>
<circle cx="1796" cy="842" r="9.7"/>
<circle cx="1847" cy="842" r="9.7"/>
<circle cx="1897.5" cy="842" r="9.7"/>
<circle cx="1947.5" cy="842" r="9.7"/>
<circle cx="1593" cy="858" r="9.7"/>
<circle cx="1644.5" cy="858" r="9.7"/>
<circle cx="1535" cy="876" r="9.7"/>
<circle cx="1677" cy="876" r="9.7"/>
<circle cx="1728" cy="876" r="9.7"/>
<circle cx="1779" cy="876" r="9.7"/>
<circle cx="1830" cy="876" r="9.7"/>
<circle cx="1880" cy="876" r="9.7"/>
<circle cx="1931" cy="876" r="9.7"/>
<circle cx="1567" cy="884" r="9.7"/>
<circle cx="1617.5" cy="884" r="9.7"/>
<circle cx="1821" cy="815.5" r="10.7"/>
<circle cx="49" cy="907" r="9.7"/>
<circle cx="24" cy="934" r="9.7"/>
<circle cx="49" cy="958" r="9.7"/>
<circle cx="49" cy="1001" r="9.7"/>
<circle cx="117.5" cy="1001" r="9.7"/>
<circle cx="83" cy="1035" r="9.7"/>
<circle cx="210" cy="1036" r="9.7"/>
<circle cx="210" cy="1103.5" r="9.7"/>
<circle cx="328" cy="934" r="9.7"/>
<circle cx="378" cy="934" r="9.7"/>
<circle cx="337" cy="1162.5" r="9.7"/>
<circle cx="387.5" cy="1162.5" r="9.7"/>
<circle cx="430" cy="1162.5" r="9.7"/>
<circle cx="480" cy="1162.5" r="9.7"/>
<circle cx="239" cy="997" r="12.2"/>
<circle cx="239" cy="1132" r="12.2"/>
<circle cx="354" cy="958" r="11.7"/>
<circle cx="304" cy="1031" r="11.7"/>
<circle cx="337.5" cy="1031" r="11.7"/>
<circle cx="372" cy="1031" r="11.7"/>
<circle cx="405" cy="1031" r="11.7"/>
<circle cx="439" cy="1031" r="11.7"/>
<circle cx="304" cy="1098.5" r="11.7"/>
<circle cx="337.5" cy="1098.5" r="11.7"/>
<circle cx="372" cy="1098.5" r="11.7"/>
<circle cx="405" cy="1098.5" r="11.7"/>
<circle cx="439" cy="1098.5" r="11.7"/>
<circle cx="507.5" cy="1031" r="11.7"/>
<circle cx="541" cy="1031" r="11.7"/>
<circle cx="575.5" cy="1031" r="11.7"/>
<circle cx="609" cy="1031" r="11.7"/>
<circle cx="643" cy="1031" r="11.7"/>
<circle cx="507.5" cy="1098.5" r="11.7"/>
<circle cx="541" cy="1098.5" r="11.7"/>
<circle cx="575.5" cy="1098.5" r="11.7"/>
<circle cx="609" cy="1098.5" r="11.7"/>
<circle cx="674" cy="930" r="12.2"/>
<circle cx="674" cy="1132" r="12.2"/>
<circle cx="702" cy="977" r="9.7"/>
<circle cx="719" cy="1011" r="9.7"/>
<circle cx="762" cy="1063" r="9.7"/>
<circle cx="745" cy="1088" r="9.7"/>
<circle cx="948" cy="1012" r="9.7"/>
<circle cx="541" cy="1162.5" r="9.7"/>
<circle cx="591" cy="1162.5" r="9.7"/>
<circle cx="991" cy="952" r="11.7"/>
<circle cx="991" cy="1019.5" r="11.7"/>
<circle cx="1025" cy="952" r="11.7"/>
<circle cx="1059" cy="952" r="11.7"/>
<circle cx="1093" cy="952" r="11.7"/>
<circle cx="1093" cy="1020" r="11.7"/>
<circle cx="1134" cy="1062" r="9.7"/>
<circle cx="1322.5" cy="1002" r="9.7"/>
<circle cx="1389" cy="1002" r="9.7"/>
<circle cx="1356" cy="1037" r="9.7"/>
<circle cx="1076" cy="1147" r="9.7"/>
<circle cx="1457" cy="969" r="9.7"/>
<circle cx="1490" cy="926" r="9.7"/>
<circle cx="1261" cy="970" r="12.2"/>
<circle cx="1261" cy="1037" r="12.2"/>
<circle cx="1261" cy="1105" r="12.2"/>
<circle cx="1508" cy="901" r="9.7"/>
<circle cx="1974" cy="902" r="9.7"/>
<circle cx="1626" cy="943.5" r="9.7"/>
<circle cx="1584.5" cy="994" r="9.7"/>
<circle cx="1974" cy="952" r="9.7"/>
<circle cx="1974" cy="995" r="9.7"/>
<circle cx="1661" cy="1046" r="9.7"/>
<circle cx="1729" cy="1046" r="9.7"/>
<circle cx="1831" cy="1046" r="9.7"/>
<circle cx="1898" cy="1046" r="9.7"/>
<circle cx="1974" cy="1046" r="9.7"/>
<circle cx="1644" cy="1079" r="9.7"/>
<circle cx="1694" cy="1079" r="9.7"/>
<circle cx="1746" cy="1070.5" r="9.7"/>
<circle cx="1795.5" cy="1070.5" r="9.7"/>
<circle cx="1856" cy="1079" r="9.7"/>
<circle cx="1906" cy="1079" r="9.7"/>
<circle cx="1830" cy="1120" r="9.7"/>
<circle cx="1898" cy="1120" r="9.7"/>
<circle cx="1864.5" cy="1154" r="9.7"/>
<circle cx="1694" cy="909" r="10.2"/>
<circle cx="1728" cy="909" r="10.2"/>
<circle cx="1762" cy="909" r="10.2"/>
<circle cx="1796" cy="909" r="10.2"/>
<circle cx="1830" cy="909" r="10.2"/>
<circle cx="1864" cy="909" r="10.2"/>
<circle cx="1694.5" cy="1012" r="10.2"/>
<circle cx="1728" cy="1012" r="10.2"/>
<circle cx="1762" cy="1012" r="10.2"/>
<circle cx="1796" cy="1012" r="10.2"/>
<circle cx="1830" cy="1012" r="10.2"/>
<circle cx="1864" cy="1012" r="10.2"/>
<circle cx="1899" cy="1012" r="10.2"/>
<circle cx="1940" cy="970" r="12.2"/>
<circle cx="1940" cy="1037" r="12.2"/>
<circle cx="1940" cy="1105" r="12.2"/>
<rect x="488.5" y="35" width="18" height="18"/>
<rect x="401.5" y="194" width="22" height="22"/>
<rect x="794.5" y="35.5" width="17" height="17"/>
<rect x="561.75" y="210.75" width="22.5" height="22.5"/>
<rect x="655.75" y="235.75" width="22.5" height="22.5"/>
<rect x="901.75" y="168.25" width="22.5" height="22.5"/>
<rect x="1286.5" y="103.5" width="17" height="17"/>
<rect x="1487.5" y="168.5" width="23" height="23"/>
<rect x="1622.75" y="143.75" width="22.5" height="22.5"/>
<rect x="1719.5" y="205.5" width="17" height="17"/>
<rect x="395.5" y="382.5" width="17" height="17"/>
<rect x="286" y="551.5" width="17" height="17"/>
<rect x="120.75" y="523.75" width="22.5" height="22.5"/>
<rect x="367.75" y="557.75" width="22.5" height="22.5"/>
<rect x="519.75" y="303.25" width="22.5" height="22.5"/>
<rect x="667.5" y="339.5" width="17" height="17"/>
<rect x="1057.5" y="365.5" width="17" height="17"/>
<rect x="1371.5" y="494" width="17" height="17"/>
<rect x="1854.5" y="494.5" width="17" height="17"/>
<rect x="96.75" y="684.75" width="22.5" height="22.5"/>
<rect x="349.75" y="668.25" width="22.5" height="22.5"/>
<rect x="468.75" y="702.75" width="22.5" height="22.5"/>
<rect x="451.75" y="845.75" width="22.5" height="22.5"/>
<rect x="931" y="653.5" width="17" height="17"/>
<rect x="707.75" y="829.75" width="22.5" height="22.5"/>
<rect x="918.75" y="829.75" width="22.5" height="22.5"/>
<rect x="1114.75" y="652.75" width="22.5" height="22.5"/>
<rect x="1376.25" y="761.75" width="22.5" height="22.5"/>
<rect x="1402.75" y="863.75" width="22.5" height="22.5"/>
<rect x="1644" y="679.5" width="17" height="17"/>
<rect x="393.75" y="946.75" width="22.5" height="22.5"/>
<rect x="631.75" y="1087.25" width="22.5" height="22.5"/>
<rect x="1114.75" y="940.75" width="22.5" height="22.5"/>
<rect x="1013.75" y="1008.75" width="22.5" height="22.5"/>
<rect x="1114.75" y="1008.75" width="22.5" height="22.5"/>
<rect x="1890.5" y="900.5" width="17" height="17"/>
</g>
<path fill="#000" d="M31,4H164V96H31V67.5H21V33H31Z"/>
<path fill="#fff" d="M44,23H71V77H44V67.5H56.5V33H44Z"/>
<circle cx="39" cy="50" r="9" fill="#fff"/><circle cx="100" cy="50" r="25" fill="#fff"/>
<g fill="none" stroke="#000" stroke-width="3"><polygon points="344,385 360,374 380,374 388.5,383 388.5,400 380,409.5 360,409.5 344,397"/><polygon points="385,305.5 405,305.5 414,314 414,332.5 405,342 386,342 377,332.5 377,314"/><path d="M405,305.5L412,298"/></g>
<g fill="none" stroke="#000" stroke-width="3"><polygon points="565,332 584,332 592,340 592,359 584,367.5 565,367.5 556,359 556,340"/></g>
<path fill="#000" d="M99,685L111,678H206L217,667L227,653L236,663V675L214,697.5H120V707H97Z"/>
<polygon fill="#000" points="587.574,684 612.426,684 630,701.574 630,726.426 612.426,744 587.574,744 570,726.426 570,701.574"/><circle cx="600" cy="714" r="19.5" fill="#fff"/><g stroke="#000" stroke-width="5"><path d="M579.5,714L620.5,714"/><path d="M585.504,699.504L614.496,728.496"/><path d="M600,693.5L600,734.5"/><path d="M614.496,699.504L585.504,728.496"/></g><circle cx="600" cy="714" r="10.5" fill="#000"/><circle cx="600" cy="714" r="5" fill="#fff"/>
<rect x="637" y="681.5" width="64" height="64.5" fill="#000"/><rect x="650" y="695" width="38" height="38.5" fill="#fff"/><g stroke="#000"><path stroke-width="4.5" d="M669,695V733.5M650,714.25H688"/><path stroke-width="7" d="M650,695L688,733.5M688,695L650,733.5"/></g><circle cx="669" cy="714.25" r="10" fill="#000"/><circle cx="669" cy="714.25" r="5.5" fill="#fff"/>
<rect x="577" y="818" width="64" height="63.5" fill="#000"/><rect x="590" y="831" width="38" height="38" fill="#fff"/><g stroke="#000"><path stroke-width="4.5" d="M609,831V869M590,850H628"/><path stroke-width="7" d="M590,831L628,869M628,831L590,869"/></g><rect x="598.5" y="840" width="21" height="20" fill="#000"/>
<path fill="#000" d="M31,1056.75H164.5V1148H31V1119H21V1085H31Z"/>
<path fill="#fff" d="M44,1076H71V1129H44V1119H56.5V1085H44Z"/>
<circle cx="39" cy="1102.5" r="9" fill="#fff"/><circle cx="100" cy="1102.5" r="25" fill="#fff"/>
<g fill="#fff">
<circle cx="242.5" cy="44" r="3.7"/>
<circle cx="292.5" cy="44" r="3.7"/>
<circle cx="326" cy="44" r="3.7"/>
<circle cx="360.5" cy="44" r="3.7"/>
<circle cx="394.5" cy="44" r="3.7"/>
<circle cx="428.5" cy="44" r="3.7"/>
<circle cx="462.5" cy="44" r="3.7"/>
<circle cx="242" cy="77" r="3.7"/>
<circle cx="210" cy="112" r="3.7"/>
<circle cx="243" cy="112" r="3.7"/>
<circle cx="167" cy="145" r="3.7"/>
<circle cx="268" cy="145" r="3.7"/>
<circle cx="292.5" cy="146" r="3.7"/>
<circle cx="326" cy="146" r="3.7"/>
<circle cx="360.5" cy="146" r="3.7"/>
<circle cx="394.5" cy="146" r="3.7"/>
<circle cx="428.5" cy="146" r="3.7"/>
<circle cx="462.5" cy="146" r="3.7"/>
<circle cx="496" cy="146" r="3.7"/>
<circle cx="310.5" cy="172" r="3.7"/>
<circle cx="362" cy="172" r="3.7"/>
<circle cx="284.5" cy="197" r="3.7"/>
<circle cx="336" cy="197" r="3.7"/>
<circle cx="277" cy="221" r="3.7"/>
<circle cx="310" cy="221" r="3.7"/>
<circle cx="320" cy="255" r="3.7"/>
<circle cx="412" cy="297" r="3.7"/>
<circle cx="498" cy="281" r="3.7"/>
<circle cx="446" cy="205" r="4.7"/>
<circle cx="480" cy="205" r="4.7"/>
<circle cx="598.75" cy="44" r="3.7"/>
<circle cx="632.5" cy="44" r="3.7"/>
<circle cx="666.75" cy="44" r="3.7"/>
<circle cx="700.75" cy="44" r="3.7"/>
<circle cx="734.5" cy="44" r="3.7"/>
<circle cx="768.75" cy="44" r="3.7"/>
<circle cx="548.75" cy="70" r="3.7"/>
<circle cx="548.75" cy="120.5" r="3.7"/>
<circle cx="548.75" cy="146" r="3.7"/>
<circle cx="598.75" cy="146" r="3.7"/>
<circle cx="632.5" cy="146" r="3.7"/>
<circle cx="666.75" cy="146" r="3.7"/>
<circle cx="700.75" cy="146" r="3.7"/>
<circle cx="734.5" cy="146" r="3.7"/>
<circle cx="768.75" cy="146" r="3.7"/>
<circle cx="802.5" cy="146" r="3.7"/>
<circle cx="548.75" cy="196" r="3.7"/>
<circle cx="548.75" cy="280" r="3.7"/>
<circle cx="591" cy="280" r="3.7"/>
<circle cx="905" cy="297.5" r="3.7"/>
<circle cx="955" cy="297.5" r="3.7"/>
<circle cx="844.5" cy="79" r="2.7"/>
<circle cx="904.5" cy="79" r="2.7"/>
<circle cx="972.5" cy="79" r="2.7"/>
<circle cx="1000" cy="104" r="2.7"/>
<circle cx="972" cy="129.5" r="2.7"/>
<circle cx="523" cy="171" r="2.7"/>
<circle cx="650" cy="171.5" r="2.7"/>
<circle cx="700.75" cy="172" r="2.7"/>
<circle cx="828" cy="172" r="2.7"/>
<circle cx="828" cy="222.5" r="2.7"/>
<circle cx="988" cy="164" r="2.7"/>
<circle cx="972" cy="222.5" r="2.7"/>
<circle cx="998" cy="290" r="2.7"/>
<circle cx="523" cy="222.5" r="5.2"/>
<circle cx="634" cy="247" r="5.2"/>
<circle cx="879" cy="179.5" r="5.7"/>
<circle cx="750" cy="252.5" r="7.2"/>
<circle cx="794.5" cy="252.5" r="7.2"/>
<circle cx="772.5" cy="294" r="10.2"/>
<circle cx="1040" cy="62" r="2.7"/>
<circle cx="1091" cy="62" r="2.7"/>
<circle cx="1134.5" cy="62" r="2.7"/>
<circle cx="1186" cy="62" r="2.7"/>
<circle cx="1244" cy="62" r="2.7"/>
<circle cx="1295" cy="62" r="2.7"/>
<circle cx="1109" cy="87.5" r="2.7"/>
<circle cx="1160" cy="87.5" r="2.7"/>
<circle cx="1218" cy="87.5" r="2.7"/>
<circle cx="1269.5" cy="87.5" r="2.7"/>
<circle cx="1049" cy="103" r="2.7"/>
<circle cx="1024" cy="129" r="2.7"/>
<circle cx="1040" cy="164" r="2.7"/>
<circle cx="1041" cy="222.5" r="2.7"/>
<circle cx="1074" cy="240.5" r="2.7"/>
<circle cx="1125" cy="240.5" r="2.7"/>
<circle cx="1159.5" cy="240.5" r="2.7"/>
<circle cx="1211" cy="240.5" r="2.7"/>
<circle cx="1099.5" cy="264.5" r="2.7"/>
<circle cx="1151" cy="264.5" r="2.7"/>
<circle cx="1185" cy="264.5" r="2.7"/>
<circle cx="1236" cy="264.5" r="2.7"/>
<circle cx="1066" cy="289.5" r="2.7"/>
<circle cx="1329.5" cy="290.5" r="2.7"/>
<circle cx="1167.5" cy="299" r="2.7"/>
<circle cx="1217.5" cy="299" r="2.7"/>
<circle cx="1091" cy="112" r="4.2"/>
<circle cx="1124.5" cy="112" r="4.2"/>
<circle cx="1159" cy="112" r="4.2"/>
<circle cx="1192.5" cy="112" r="4.2"/>
<circle cx="1227" cy="112" r="4.2"/>
<circle cx="1261" cy="112" r="4.2"/>
<circle cx="1091" cy="214.5" r="4.2"/>
<circle cx="1124.5" cy="214.5" r="4.2"/>
<circle cx="1159" cy="214.5" r="4.2"/>
<circle cx="1192.5" cy="214.5" r="4.2"/>
<circle cx="1227" cy="214.5" r="4.2"/>
<circle cx="1261" cy="214.5" r="4.2"/>
<circle cx="1295" cy="214.5" r="4.2"/>
<circle cx="1464.5" cy="180" r="5.2"/>
<circle cx="1261" cy="289.5" r="7.2"/>
<circle cx="1761" cy="79.5" r="2.7"/>
<circle cx="1677" cy="114" r="2.7"/>
<circle cx="1727.5" cy="114" r="2.7"/>
<circle cx="1796" cy="114" r="2.7"/>
<circle cx="1711" cy="155.5" r="2.7"/>
<circle cx="1676" cy="164" r="2.7"/>
<circle cx="1760.5" cy="155.5" r="2.7"/>
<circle cx="1694" cy="189" r="2.7"/>
<circle cx="1727" cy="189" r="2.7"/>
<circle cx="1762" cy="198" r="2.7"/>
<circle cx="1584" cy="231" r="2.7"/>
<circle cx="1830" cy="198" r="2.7"/>
<circle cx="1931" cy="181" r="2.7"/>
<circle cx="1897" cy="215" r="2.7"/>
<circle cx="1965.5" cy="215" r="2.7"/>
<circle cx="1804" cy="257" r="2.7"/>
<circle cx="1864" cy="257" r="2.7"/>
<circle cx="1897" cy="257" r="2.7"/>
<circle cx="1965" cy="265" r="2.7"/>
<circle cx="1549" cy="297.5" r="2.7"/>
<circle cx="1584" cy="297.5" r="2.7"/>
<circle cx="1566" cy="155" r="5.7"/>
<circle cx="1600" cy="155" r="5.7"/>
<circle cx="1626" cy="214" r="4.2"/>
<circle cx="1659.5" cy="214" r="4.2"/>
<circle cx="1694" cy="214" r="4.2"/>
<circle cx="1940" cy="291" r="6.7"/>
<circle cx="91" cy="323" r="6.2"/>
<circle cx="226" cy="442" r="2.7"/>
<circle cx="276" cy="442" r="2.7"/>
<circle cx="487.5" cy="502.5" r="2.7"/>
<circle cx="82" cy="501" r="2.7"/>
<circle cx="150" cy="501" r="2.7"/>
<circle cx="192" cy="501" r="2.7"/>
<circle cx="242" cy="501" r="2.7"/>
<circle cx="176" cy="535.5" r="2.7"/>
<circle cx="209" cy="535" r="2.7"/>
<circle cx="302" cy="391" r="4.2"/>
<circle cx="336" cy="391" r="4.2"/>
<circle cx="370" cy="391" r="4.2"/>
<circle cx="302" cy="494" r="4.2"/>
<circle cx="336" cy="494" r="4.2"/>
<circle cx="370" cy="494" r="4.2"/>
<circle cx="404" cy="494" r="4.2"/>
<circle cx="395" cy="323" r="6.7"/>
<circle cx="480" cy="314.5" r="5.7"/>
<circle cx="82" cy="535" r="5.7"/>
<circle cx="345" cy="569" r="5.7"/>
<circle cx="471" cy="348" r="3.7"/>
<circle cx="471" cy="451" r="3.7"/>
<circle cx="56.5" cy="560" r="4.7"/>
<circle cx="91" cy="560" r="4.7"/>
<circle cx="124.5" cy="560" r="4.7"/>
<circle cx="159" cy="560" r="4.7"/>
<circle cx="192.5" cy="560" r="4.7"/>
<circle cx="226" cy="560" r="4.7"/>
<circle cx="260.5" cy="560" r="4.7"/>
<circle cx="565.5" cy="315" r="2.7"/>
<circle cx="591" cy="376" r="2.7"/>
<circle cx="659" cy="375" r="2.7"/>
<circle cx="540" cy="476" r="2.7"/>
<circle cx="591" cy="476" r="2.7"/>
<circle cx="540" cy="502" r="2.7"/>
<circle cx="565.5" cy="502" r="2.7"/>
<circle cx="617" cy="502" r="2.7"/>
<circle cx="702" cy="519" r="2.7"/>
<circle cx="887.5" cy="340" r="2.7"/>
<circle cx="947" cy="340" r="2.7"/>
<circle cx="879.5" cy="409" r="2.7"/>
<circle cx="896" cy="443" r="2.7"/>
<circle cx="845" cy="502" r="2.7"/>
<circle cx="615" cy="315" r="3.7"/>
<circle cx="506" cy="348" r="3.7"/>
<circle cx="540" cy="348" r="3.7"/>
<circle cx="608" cy="348" r="3.7"/>
<circle cx="642" cy="348" r="3.7"/>
<circle cx="506" cy="451" r="3.7"/>
<circle cx="540" cy="451" r="3.7"/>
<circle cx="574" cy="451" r="3.7"/>
<circle cx="608" cy="451" r="3.7"/>
<circle cx="642" cy="451" r="3.7"/>
<circle cx="676" cy="451" r="3.7"/>
<circle cx="574" cy="348" r="4.7"/>
<circle cx="772" cy="359" r="10.2"/>
<circle cx="772" cy="421" r="10.2"/>
<circle cx="750" cy="464" r="7.2"/>
<circle cx="794.5" cy="464" r="7.2"/>
<circle cx="861" cy="374" r="4.2"/>
<circle cx="895" cy="374" r="4.2"/>
<circle cx="929" cy="374" r="4.2"/>
<circle cx="963" cy="374" r="4.2"/>
<circle cx="997.5" cy="374" r="4.2"/>
<circle cx="861" cy="477" r="4.2"/>
<circle cx="895" cy="477" r="4.2"/>
<circle cx="929" cy="477" r="4.2"/>
<circle cx="963" cy="477" r="4.2"/>
<circle cx="997.5" cy="477" r="4.2"/>
<circle cx="1109" cy="316" r="2.7"/>
<circle cx="1109" cy="367" r="2.7"/>
<circle cx="1015" cy="349" r="2.7"/>
<circle cx="1066" cy="349" r="2.7"/>
<circle cx="1211" cy="325" r="2.7"/>
<circle cx="1295" cy="325" r="2.7"/>
<circle cx="1364" cy="325" r="2.7"/>
<circle cx="1211" cy="393" r="2.7"/>
<circle cx="1159" cy="419" r="2.7"/>
<circle cx="1210" cy="419" r="2.7"/>
<circle cx="1134" cy="452" r="2.7"/>
<circle cx="1185" cy="452" r="2.7"/>
<circle cx="1286" cy="452" r="2.7"/>
<circle cx="1337.5" cy="452" r="2.7"/>
<circle cx="1371" cy="452" r="2.7"/>
<circle cx="1422" cy="452" r="2.7"/>
<circle cx="1159.5" cy="477" r="2.7"/>
<circle cx="1211" cy="477" r="2.7"/>
<circle cx="1261" cy="477" r="2.7"/>
<circle cx="1312" cy="477" r="2.7"/>
<circle cx="1346" cy="477" r="2.7"/>
<circle cx="1397.5" cy="477" r="2.7"/>
<circle cx="1447.5" cy="502.5" r="2.7"/>
<circle cx="1447.5" cy="529" r="2.7"/>
<circle cx="1499" cy="537.5" r="2.7"/>
<circle cx="1481" cy="595" r="2.7"/>
<circle cx="1032" cy="374" r="4.2"/>
<circle cx="1032" cy="477" r="4.2"/>
<circle cx="1066" cy="477" r="4.2"/>
<circle cx="1176" cy="502.5" r="4.2"/>
<circle cx="1210" cy="502.5" r="4.2"/>
<circle cx="1244" cy="502.5" r="4.2"/>
<circle cx="1277.5" cy="502.5" r="4.2"/>
<circle cx="1312" cy="502.5" r="4.2"/>
<circle cx="1346" cy="502.5" r="4.2"/>
<circle cx="1261" cy="358" r="6.7"/>
<circle cx="1261" cy="425" r="6.7"/>
<circle cx="1532.5" cy="315.5" r="3.7"/>
<circle cx="1626" cy="317" r="4.7"/>
<circle cx="1659.5" cy="317" r="4.7"/>
<circle cx="1694" cy="317" r="4.7"/>
<circle cx="1728" cy="317" r="4.7"/>
<circle cx="1625" cy="503" r="4.7"/>
<circle cx="1659" cy="503" r="4.7"/>
<circle cx="1692.5" cy="503" r="4.7"/>
<circle cx="1727" cy="503" r="4.7"/>
<circle cx="1761" cy="503" r="4.7"/>
<circle cx="1795" cy="503" r="4.7"/>
<circle cx="1829" cy="503" r="4.7"/>
<circle cx="1642.5" cy="341" r="2.7"/>
<circle cx="1692.5" cy="341" r="2.7"/>
<circle cx="1659" cy="367.5" r="2.7"/>
<circle cx="1692.5" cy="367.5" r="2.7"/>
<circle cx="1659" cy="392.5" r="2.7"/>
<circle cx="1709.5" cy="392.5" r="2.7"/>
<circle cx="1643" cy="426" r="2.7"/>
<circle cx="1897" cy="308" r="2.7"/>
<circle cx="1965" cy="317" r="2.7"/>
<circle cx="1754.5" cy="417.5" r="2.7"/>
<circle cx="1804.5" cy="417.5" r="2.7"/>
<circle cx="1839" cy="417.5" r="2.7"/>
<circle cx="1888" cy="417.5" r="2.7"/>
<circle cx="1676" cy="461" r="2.7"/>
<circle cx="1736" cy="461" r="2.7"/>
<circle cx="1769.5" cy="461" r="2.7"/>
<circle cx="1872" cy="461" r="2.7"/>
<circle cx="1643" cy="477" r="2.7"/>
<circle cx="1592.5" cy="486" r="2.7"/>
<circle cx="1567.5" cy="536" r="2.7"/>
<circle cx="1592.5" cy="536" r="2.7"/>
<circle cx="1549.5" cy="554" r="2.7"/>
<circle cx="1567.5" cy="571" r="2.7"/>
<circle cx="1940" cy="360" r="6.7"/>
<circle cx="1940" cy="427.5" r="7.2"/>
<circle cx="56.5" cy="663" r="4.7"/>
<circle cx="91" cy="663" r="4.7"/>
<circle cx="124.5" cy="663" r="4.7"/>
<circle cx="159" cy="663" r="4.7"/>
<circle cx="192.5" cy="663" r="4.7"/>
<circle cx="227" cy="663" r="4.7"/>
<circle cx="260.5" cy="663" r="4.7"/>
<circle cx="294.5" cy="663" r="4.7"/>
<circle cx="24.5" cy="696" r="2.7"/>
<circle cx="74" cy="696" r="2.7"/>
<circle cx="328" cy="646" r="2.7"/>
<circle cx="378" cy="646" r="2.7"/>
<circle cx="414" cy="630" r="2.7"/>
<circle cx="294.5" cy="695.5" r="2.7"/>
<circle cx="328" cy="722" r="2.7"/>
<circle cx="361" cy="722" r="2.7"/>
<circle cx="24" cy="882.5" r="2.7"/>
<circle cx="463" cy="630" r="3.7"/>
<circle cx="311" cy="679.5" r="5.7"/>
<circle cx="412.5" cy="714" r="5.2"/>
<circle cx="395.5" cy="857" r="5.2"/>
<circle cx="726" cy="621" r="2.7"/>
<circle cx="769" cy="629.5" r="2.7"/>
<circle cx="914" cy="605" r="2.7"/>
<circle cx="972.5" cy="605" r="2.7"/>
<circle cx="888" cy="638" r="2.7"/>
<circle cx="938" cy="638" r="2.7"/>
<circle cx="956" cy="690.5" r="2.7"/>
<circle cx="997.5" cy="722.5" r="2.7"/>
<circle cx="803" cy="790.5" r="2.7"/>
<circle cx="854.5" cy="790.5" r="2.7"/>
<circle cx="777.5" cy="816" r="2.7"/>
<circle cx="829" cy="816" r="2.7"/>
<circle cx="676" cy="875.5" r="2.7"/>
<circle cx="837.5" cy="875.5" r="2.7"/>
<circle cx="990" cy="884" r="2.7"/>
<circle cx="734.5" cy="662" r="5.2"/>
<circle cx="769" cy="662" r="5.2"/>
<circle cx="803" cy="662" r="5.2"/>
<circle cx="837" cy="662" r="5.2"/>
<circle cx="871" cy="662" r="5.2"/>
<circle cx="905" cy="662" r="5.2"/>
<circle cx="734.5" cy="764.5" r="5.2"/>
<circle cx="769" cy="764.5" r="5.2"/>
<circle cx="803" cy="764.5" r="5.2"/>
<circle cx="837" cy="764.5" r="5.2"/>
<circle cx="871" cy="764.5" r="5.2"/>
<circle cx="905" cy="764.5" r="5.2"/>
<circle cx="939.5" cy="764.5" r="5.2"/>
<circle cx="541" cy="687.5" r="3.7"/>
<circle cx="786" cy="875.5" r="3.7"/>
<circle cx="684.5" cy="841" r="5.7"/>
<circle cx="896" cy="841" r="5.7"/>
<circle cx="541" cy="849.5" r="5.2"/>
<circle cx="541" cy="755.5" r="2.7"/>
<circle cx="1176" cy="605.5" r="4.2"/>
<circle cx="1210" cy="605.5" r="4.2"/>
<circle cx="1244" cy="605.5" r="4.2"/>
<circle cx="1278" cy="605.5" r="4.2"/>
<circle cx="1312" cy="605.5" r="4.2"/>
<circle cx="1346" cy="605.5" r="4.2"/>
<circle cx="1380" cy="605.5" r="4.2"/>
<circle cx="1169" cy="630.5" r="2.7"/>
<circle cx="1219" cy="630.5" r="2.7"/>
<circle cx="1261" cy="639.5" r="2.7"/>
<circle cx="1330" cy="647" r="2.7"/>
<circle cx="1388" cy="647" r="2.7"/>
<circle cx="1439" cy="630.5" r="2.7"/>
<circle cx="1489" cy="630.5" r="2.7"/>
<circle cx="1465" cy="654.5" r="2.7"/>
<circle cx="1185.5" cy="664" r="2.7"/>
<circle cx="1235" cy="664" r="2.7"/>
<circle cx="1287" cy="664" r="2.7"/>
<circle cx="1160" cy="690" r="2.7"/>
<circle cx="1209.5" cy="690" r="2.7"/>
<circle cx="1261" cy="690" r="2.7"/>
<circle cx="1312.5" cy="690" r="2.7"/>
<circle cx="1362.5" cy="690" r="2.7"/>
<circle cx="1024" cy="699" r="2.7"/>
<circle cx="1076" cy="707" r="2.7"/>
<circle cx="1185.5" cy="714" r="2.7"/>
<circle cx="1235" cy="714" r="2.7"/>
<circle cx="1287" cy="714" r="2.7"/>
<circle cx="1024" cy="747.5" r="2.7"/>
<circle cx="1076" cy="757" r="2.7"/>
<circle cx="1312.5" cy="739" r="2.7"/>
<circle cx="1364" cy="739" r="2.7"/>
<circle cx="1396" cy="739" r="2.7"/>
<circle cx="1295" cy="757" r="2.7"/>
<circle cx="1245" cy="757" r="2.7"/>
<circle cx="1117.5" cy="773" r="2.7"/>
<circle cx="1474" cy="764" r="2.7"/>
<circle cx="1364" cy="807" r="2.7"/>
<circle cx="1414" cy="807" r="2.7"/>
<circle cx="1474" cy="824" r="2.7"/>
<circle cx="1017.5" cy="857.5" r="2.7"/>
<circle cx="1067" cy="857.5" r="2.7"/>
<circle cx="1092.5" cy="876" r="2.7"/>
<circle cx="1042" cy="884" r="2.7"/>
<circle cx="1447.5" cy="688" r="4.7"/>
<circle cx="1481" cy="688" r="4.7"/>
<circle cx="1447.5" cy="791" r="4.7"/>
<circle cx="1481" cy="791" r="4.7"/>
<circle cx="1126" cy="714" r="5.7"/>
<circle cx="1337" cy="773" r="5.7"/>
<circle cx="1245" cy="875" r="5.7"/>
<circle cx="1279" cy="875" r="5.7"/>
<circle cx="1312.5" cy="875" r="5.7"/>
<circle cx="1346" cy="875" r="5.7"/>
<circle cx="1380" cy="875" r="5.7"/>
<circle cx="1007.5" cy="791" r="5.2"/>
<circle cx="1041" cy="791" r="5.2"/>
<circle cx="1075" cy="791" r="5.2"/>
<circle cx="1624.5" cy="606" r="4.7"/>
<circle cx="1659" cy="606" r="4.7"/>
<circle cx="1692.5" cy="606" r="4.7"/>
<circle cx="1727" cy="606" r="4.7"/>
<circle cx="1761" cy="606" r="4.7"/>
<circle cx="1795" cy="606" r="4.7"/>
<circle cx="1829" cy="606" r="4.7"/>
<circle cx="1863" cy="606" r="4.7"/>
<circle cx="1516" cy="688" r="4.7"/>
<circle cx="1550" cy="688" r="4.7"/>
<circle cx="1584" cy="688" r="4.7"/>
<circle cx="1618" cy="688" r="4.7"/>
<circle cx="1516" cy="791" r="4.7"/>
<circle cx="1550" cy="791" r="4.7"/>
<circle cx="1584" cy="791" r="4.7"/>
<circle cx="1618" cy="791" r="4.7"/>
<circle cx="1652" cy="791" r="4.7"/>
<circle cx="1567.5" cy="638" r="2.7"/>
<circle cx="1618" cy="647" r="2.7"/>
<circle cx="1677" cy="647" r="2.7"/>
<circle cx="1711" cy="647" r="2.7"/>
<circle cx="1813" cy="647" r="2.7"/>
<circle cx="1515.5" cy="654.5" r="2.7"/>
<circle cx="1695" cy="688" r="2.7"/>
<circle cx="1746" cy="688" r="2.7"/>
<circle cx="1779" cy="688" r="2.7"/>
<circle cx="1830" cy="688" r="2.7"/>
<circle cx="1711" cy="749" r="2.7"/>
<circle cx="1762" cy="749" r="2.7"/>
<circle cx="1737" cy="774" r="2.7"/>
<circle cx="1821" cy="765" r="2.7"/>
<circle cx="1872.5" cy="765" r="2.7"/>
<circle cx="1711" cy="799" r="2.7"/>
<circle cx="1762" cy="799" r="2.7"/>
<circle cx="1796" cy="791" r="2.7"/>
<circle cx="1847" cy="791" r="2.7"/>
<circle cx="1897.5" cy="791" r="2.7"/>
<circle cx="1947.5" cy="791" r="2.7"/>
<circle cx="1535" cy="824" r="2.7"/>
<circle cx="1566" cy="824" r="2.7"/>
<circle cx="1635.5" cy="824" r="2.7"/>
<circle cx="1737" cy="824" r="2.7"/>
<circle cx="1770" cy="824" r="2.7"/>
<circle cx="1872.5" cy="815.5" r="2.7"/>
<circle cx="1922.5" cy="815.5" r="2.7"/>
<circle cx="1974" cy="815.5" r="2.7"/>
<circle cx="1509" cy="849" r="2.7"/>
<circle cx="1703" cy="849" r="2.7"/>
<circle cx="1754" cy="849" r="2.7"/>
<circle cx="1796" cy="842" r="2.7"/>
<circle cx="1847" cy="842" r="2.7"/>
<circle cx="1897.5" cy="842" r="2.7"/>
<circle cx="1947.5" cy="842" r="2.7"/>
<circle cx="1593" cy="858" r="2.7"/>
<circle cx="1644.5" cy="858" r="2.7"/>
<circle cx="1535" cy="876" r="2.7"/>
<circle cx="1677" cy="876" r="2.7"/>
<circle cx="1728" cy="876" r="2.7"/>
<circle cx="1779" cy="876" r="2.7"/>
<circle cx="1830" cy="876" r="2.7"/>
<circle cx="1880" cy="876" r="2.7"/>
<circle cx="1931" cy="876" r="2.7"/>
<circle cx="1567" cy="884" r="2.7"/>
<circle cx="1617.5" cy="884" r="2.7"/>
<circle cx="1821" cy="815.5" r="4.7"/>
<circle cx="49" cy="907" r="2.7"/>
<circle cx="24" cy="934" r="2.7"/>
<circle cx="49" cy="958" r="2.7"/>
<circle cx="49" cy="1001" r="2.7"/>
<circle cx="117.5" cy="1001" r="2.7"/>
<circle cx="83" cy="1035" r="2.7"/>
<circle cx="210" cy="1036" r="2.7"/>
<circle cx="210" cy="1103.5" r="2.7"/>
<circle cx="328" cy="934" r="2.7"/>
<circle cx="378" cy="934" r="2.7"/>
<circle cx="337" cy="1162.5" r="2.7"/>
<circle cx="387.5" cy="1162.5" r="2.7"/>
<circle cx="430" cy="1162.5" r="2.7"/>
<circle cx="480" cy="1162.5" r="2.7"/>
<circle cx="239" cy="997" r="6.7"/>
<circle cx="239" cy="1132" r="6.7"/>
<circle cx="354" cy="958" r="5.2"/>
<circle cx="304" cy="1031" r="5.2"/>
<circle cx="337.5" cy="1031" r="5.2"/>
<circle cx="372" cy="1031" r="5.2"/>
<circle cx="405" cy="1031" r="5.2"/>
<circle cx="439" cy="1031" r="5.2"/>
<circle cx="304" cy="1098.5" r="5.2"/>
<circle cx="337.5" cy="1098.5" r="5.2"/>
<circle cx="372" cy="1098.5" r="5.2"/>
<circle cx="405" cy="1098.5" r="5.2"/>
<circle cx="439" cy="1098.5" r="5.2"/>
<circle cx="507.5" cy="1031" r="5.2"/>
<circle cx="541" cy="1031" r="5.2"/>
<circle cx="575.5" cy="1031" r="5.2"/>
<circle cx="609" cy="1031" r="5.2"/>
<circle cx="643" cy="1031" r="5.2"/>
<circle cx="507.5" cy="1098.5" r="5.2"/>
<circle cx="541" cy="1098.5" r="5.2"/>
<circle cx="575.5" cy="1098.5" r="5.2"/>
<circle cx="609" cy="1098.5" r="5.2"/>
<circle cx="674" cy="930" r="6.7"/>
<circle cx="674" cy="1132" r="6.7"/>
<circle cx="702" cy="977" r="2.7"/>
<circle cx="719" cy="1011" r="2.7"/>
<circle cx="762" cy="1063" r="2.7"/>
<circle cx="745" cy="1088" r="2.7"/>
<circle cx="948" cy="1012" r="2.7"/>
<circle cx="541" cy="1162.5" r="2.7"/>
<circle cx="591" cy="1162.5" r="2.7"/>
<circle cx="991" cy="952" r="5.7"/>
<circle cx="991" cy="1019.5" r="5.7"/>
<circle cx="1025" cy="952" r="5.7"/>
<circle cx="1059" cy="952" r="5.7"/>
<circle cx="1093" cy="952" r="5.7"/>
<circle cx="1093" cy="1020" r="5.7"/>
<circle cx="1134" cy="1062" r="2.7"/>
<circle cx="1322.5" cy="1002" r="2.7"/>
<circle cx="1389" cy="1002" r="2.7"/>
<circle cx="1356" cy="1037" r="2.7"/>
<circle cx="1076" cy="1147" r="2.7"/>
<circle cx="1457" cy="969" r="2.7"/>
<circle cx="1490" cy="926" r="2.7"/>
<circle cx="1261" cy="970" r="6.7"/>
<circle cx="1261" cy="1037" r="7.2"/>
<circle cx="1261" cy="1105" r="7.2"/>
<circle cx="1508" cy="901" r="2.7"/>
<circle cx="1974" cy="902" r="2.7"/>
<circle cx="1626" cy="943.5" r="2.7"/>
<circle cx="1584.5" cy="994" r="2.7"/>
<circle cx="1974" cy="952" r="2.7"/>
<circle cx="1974" cy="995" r="2.7"/>
<circle cx="1661" cy="1046" r="2.7"/>
<circle cx="1729" cy="1046" r="2.7"/>
<circle cx="1831" cy="1046" r="2.7"/>
<circle cx="1898" cy="1046" r="2.7"/>
<circle cx="1974" cy="1046" r="2.7"/>
<circle cx="1644" cy="1079" r="2.7"/>
<circle cx="1694" cy="1079" r="2.7"/>
<circle cx="1746" cy="1070.5" r="2.7"/>
<circle cx="1795.5" cy="1070.5" r="2.7"/>
<circle cx="1856" cy="1079" r="2.7"/>
<circle cx="1906" cy="1079" r="2.7"/>
<circle cx="1830" cy="1120" r="2.7"/>
<circle cx="1898" cy="1120" r="2.7"/>
<circle cx="1864.5" cy="1154" r="2.7"/>
<circle cx="1694" cy="909" r="4.7"/>
<circle cx="1728" cy="909" r="4.7"/>
<circle cx="1762" cy="909" r="4.7"/>
<circle cx="1796" cy="909" r="4.7"/>
<circle cx="1830" cy="909" r="4.7"/>
<circle cx="1864" cy="909" r="4.7"/>
<circle cx="1694.5" cy="1012" r="4.7"/>
<circle cx="1728" cy="1012" r="4.7"/>
<circle cx="1762" cy="1012" r="4.7"/>
<circle cx="1796" cy="1012" r="4.7"/>
<circle cx="1830" cy="1012" r="4.7"/>
<circle cx="1864" cy="1012" r="4.7"/>
<circle cx="1899" cy="1012" r="4.7"/>
<circle cx="1940" cy="970" r="6.7"/>
<circle cx="1940" cy="1037" r="6.7"/>
<circle cx="1940" cy="1105" r="6.7"/>
<circle cx="497.5" cy="44" r="4"/>
<circle cx="412.5" cy="205" r="5"/>
<circle cx="803" cy="44" r="4"/>
<circle cx="573" cy="222" r="5"/>
<circle cx="667" cy="247" r="5"/>
<circle cx="913" cy="179.5" r="5"/>
<circle cx="1295" cy="112" r="4"/>
<circle cx="1499" cy="180" r="5"/>
<circle cx="1634" cy="155" r="5"/>
<circle cx="1728" cy="214" r="4"/>
<circle cx="404" cy="391" r="4"/>
<circle cx="294.5" cy="560" r="4"/>
<circle cx="132" cy="535" r="5"/>
<circle cx="379" cy="569" r="5"/>
<circle cx="531" cy="314.5" r="5"/>
<circle cx="676" cy="348" r="4"/>
<circle cx="1066" cy="374" r="4"/>
<circle cx="1380" cy="502.5" r="4"/>
<circle cx="1863" cy="503" r="4"/>
<circle cx="108" cy="696" r="5"/>
<circle cx="361" cy="679.5" r="5"/>
<circle cx="480" cy="714" r="5"/>
<circle cx="463" cy="857" r="5"/>
<circle cx="939.5" cy="662" r="4"/>
<circle cx="719" cy="841" r="5"/>
<circle cx="930" cy="841" r="5"/>
<circle cx="1126" cy="664" r="5"/>
<circle cx="1387.5" cy="773" r="5"/>
<circle cx="1414" cy="875" r="5"/>
<circle cx="1652.5" cy="688" r="4"/>
<circle cx="405" cy="958" r="5"/>
<circle cx="643" cy="1098.5" r="5"/>
<circle cx="1126" cy="952" r="5"/>
<circle cx="1025" cy="1020" r="5"/>
<circle cx="1126" cy="1020" r="5"/>
<circle cx="1899" cy="909" r="4"/>
</g>
</svg></body></html>
